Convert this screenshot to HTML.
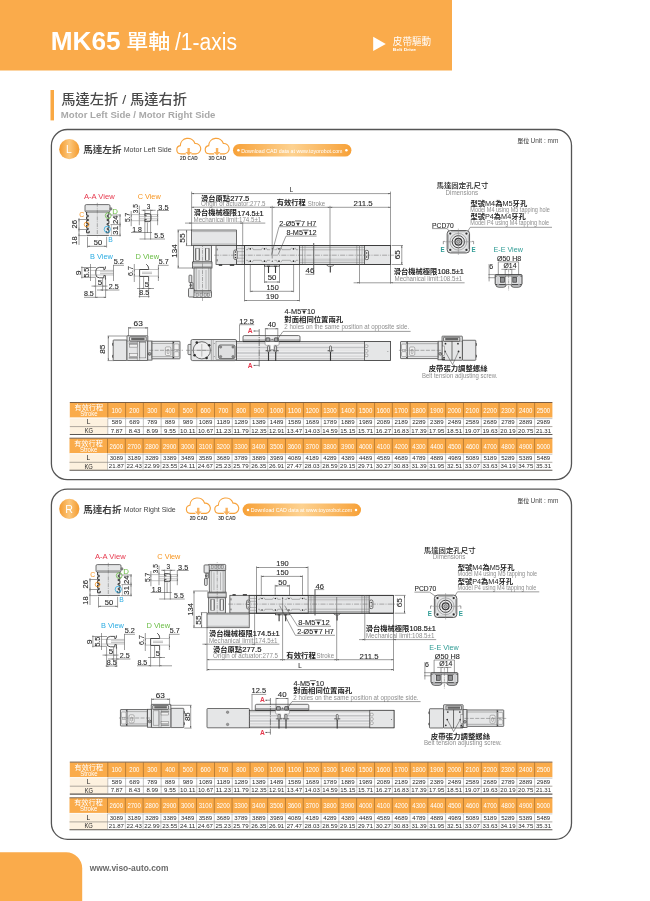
<!DOCTYPE html>
<html lang="zh-Hant">
<head>
<meta charset="utf-8">
<title>MK65 單軸 / 1-axis</title>
<style>
html,body{margin:0;padding:0;background:#fff;}
body{width:650px;height:901px;overflow:hidden;}
svg{display:block;font-family:"Liberation Sans", "Noto Sans CJK TC", sans-serif;will-change:transform;}

.hdr{fill:#FAAB4B;}
.bar{fill:#F9A843;}
.panel{fill:none;stroke:#555;stroke-width:1.3;}
.badge{fill:url(#gB);}
.pill{fill:url(#gP);}
.w{fill:#fff;}
.th{fill:#FAAB4A;}
.cream{fill:#FDF1DF;}
.tb{stroke:#6b4e33;stroke-width:0.9;}
.tb2{stroke:#5c5752;stroke-width:1.05;}
.tw{stroke:#fff;stroke-width:0.7;}
.tm{stroke:#9a948c;stroke-width:0.8;}
.thv{stroke:#8a5a22;stroke-width:0.55;}
.tv{stroke:#8f8f8f;stroke-width:0.5;}
.o{fill:none;stroke:#363636;stroke-width:0.7;}
.of{fill:#e5e6e7;stroke:#363636;stroke-width:0.7;}
.ot{fill:none;stroke:#555;stroke-width:0.4;}
.otf{fill:#e5e6e7;stroke:#555;stroke-width:0.4;}
.g{fill:#e5e6e7;}
.g2{fill:#cfd0d2;}
.k{fill:#2e2e2e;}
.d{fill:none;stroke:#4c4c4c;stroke-width:0.55;}
.dl{fill:none;stroke:#858585;stroke-width:0.5;}
.c{fill:none;stroke:#666;stroke-width:0.5;stroke-dasharray:5 1.2 1 1.2;}
.a{fill:#4a4a4a;}

</style>
</head>
<body>
<svg width="650" height="901" viewBox="0 0 650 901">
<defs>

<linearGradient id="gB" x1="0" y1="0" x2="1" y2="0">
<stop offset="0" stop-color="#F39A2E"/><stop offset="0.5" stop-color="#FCC77C"/><stop offset="1" stop-color="#F39A2E"/>
</linearGradient>
<linearGradient id="gP" x1="0" y1="0" x2="1" y2="0">
<stop offset="0" stop-color="#F7A138"/><stop offset="0.5" stop-color="#FDD291"/><stop offset="1" stop-color="#F7A138"/>
</linearGradient>

</defs>
<rect class="hdr" x="0.00" y="0.00" width="452.00" height="70.50"/>
<text x="50.76" y="50.40" font-size="26.38" fill="#fff" font-weight="700" textLength="69.89" lengthAdjust="spacingAndGlyphs">MK65</text>
<text x="126.16" y="49.27" font-size="20.56" fill="#fff" font-weight="500" textLength="44.22" lengthAdjust="spacingAndGlyphs">單軸</text>
<text x="175.00" y="49.70" font-size="23.48" fill="#fff" textLength="62.06" lengthAdjust="spacingAndGlyphs">/1-axis</text>
<polygon fill="#fff" points="373.2,36.8 385.8,43.9 373.2,51"/>
<text x="392.85" y="44.69" font-size="9.71" fill="#fff" textLength="38.20" lengthAdjust="spacingAndGlyphs">皮帶驅動</text>
<text x="392.89" y="51.30" font-size="4.35" fill="#fff" font-weight="700" textLength="23.24" lengthAdjust="spacingAndGlyphs">Belt Drive</text>
<rect class="bar" x="50.50" y="90.00" width="3.50" height="30.40"/>
<text x="61.38" y="104.14" font-size="13.43" fill="#4a4a4a" font-weight="500" textLength="125.57" lengthAdjust="spacingAndGlyphs">馬達左折 / 馬達右折</text>
<text x="60.80" y="117.90" font-size="9.28" fill="#a9a9a9" font-weight="700" textLength="154.64" lengthAdjust="spacingAndGlyphs">Motor Left Side / Motor Right Side</text>
<rect class="panel" x="51.40" y="129.50" width="520.10" height="350.20" rx="16"/>
<circle class="badge" cx="69.30" cy="149.20" r="10.10"/>
<text x="66.09" y="153.40" font-size="11.30" fill="#fff" textLength="5.77" lengthAdjust="spacingAndGlyphs">L</text>
<text x="83.25" y="153.03" font-size="9.23" fill="#3e3e3e" font-weight="700" textLength="38.25" lengthAdjust="spacingAndGlyphs">馬達左折</text>
<text x="123.65" y="152.40" font-size="7.54" fill="#444" textLength="48.04" lengthAdjust="spacingAndGlyphs">Motor Left Side</text>
<g transform="translate(176.10 137.70)"><path d="M9.3,16.1 H4.6 A4.1,4.1 0 0 1 4.2,7.95 A7.55,7.55 0 0 1 18.9,5.8 A5.2,5.2 0 0 1 20.3,16.1 H15.6" fill="none" stroke="#F7A23B" stroke-width="1.15" stroke-linecap="round"/><path d="M11.35,10.4 H13.75 V14.3 H15.9 L12.55,17.9 L9.2,14.3 H11.35 Z" fill="#F9B25E"/></g>
<g transform="translate(204.50 137.70)"><path d="M9.3,16.1 H4.6 A4.1,4.1 0 0 1 4.2,7.95 A7.55,7.55 0 0 1 18.9,5.8 A5.2,5.2 0 0 1 20.3,16.1 H15.6" fill="none" stroke="#F7A23B" stroke-width="1.15" stroke-linecap="round"/><path d="M11.35,10.4 H13.75 V14.3 H15.9 L12.55,17.9 L9.2,14.3 H11.35 Z" fill="#F9B25E"/></g>
<text x="180.05" y="160.30" font-size="5.07" fill="#444" font-weight="700" textLength="17.71" lengthAdjust="spacingAndGlyphs">2D CAD</text>
<text x="208.53" y="160.30" font-size="5.07" fill="#444" font-weight="700" textLength="17.64" lengthAdjust="spacingAndGlyphs">3D CAD</text>
<rect class="pill" x="233.00" y="144.00" width="118.40" height="12.60" rx="6.3"/>
<circle class="w" cx="238.40" cy="150.30" r="1.25"/>
<circle class="w" cx="346.40" cy="150.30" r="1.25"/>
<text x="241.19" y="152.60" font-size="6.23" fill="#fff" textLength="101.29" lengthAdjust="spacingAndGlyphs">Download CAD data at www.toyorobot.com</text>
<text x="517.32" y="142.96" font-size="5.77" fill="#4a4a4a" font-weight="500" textLength="12.07" lengthAdjust="spacingAndGlyphs">單位</text>
<text x="530.59" y="143.10" font-size="6.67" fill="#4a4a4a" textLength="27.74" lengthAdjust="spacingAndGlyphs">Unit : mm</text>
<rect class="panel" x="51.40" y="489.10" width="520.10" height="350.20" rx="16"/>
<circle class="badge" cx="69.30" cy="508.80" r="10.10"/>
<text x="65.27" y="512.60" font-size="11.30" fill="#fff" textLength="7.70" lengthAdjust="spacingAndGlyphs">R</text>
<text x="83.25" y="512.63" font-size="9.23" fill="#3e3e3e" font-weight="700" textLength="38.25" lengthAdjust="spacingAndGlyphs">馬達右折</text>
<text x="123.65" y="512.00" font-size="7.54" fill="#444" textLength="52.03" lengthAdjust="spacingAndGlyphs">Motor Right Side</text>
<g transform="translate(185.70 497.30)"><path d="M9.3,16.1 H4.6 A4.1,4.1 0 0 1 4.2,7.95 A7.55,7.55 0 0 1 18.9,5.8 A5.2,5.2 0 0 1 20.3,16.1 H15.6" fill="none" stroke="#F7A23B" stroke-width="1.15" stroke-linecap="round"/><path d="M11.35,10.4 H13.75 V14.3 H15.9 L12.55,17.9 L9.2,14.3 H11.35 Z" fill="#F9B25E"/></g>
<g transform="translate(214.10 497.30)"><path d="M9.3,16.1 H4.6 A4.1,4.1 0 0 1 4.2,7.95 A7.55,7.55 0 0 1 18.9,5.8 A5.2,5.2 0 0 1 20.3,16.1 H15.6" fill="none" stroke="#F7A23B" stroke-width="1.15" stroke-linecap="round"/><path d="M11.35,10.4 H13.75 V14.3 H15.9 L12.55,17.9 L9.2,14.3 H11.35 Z" fill="#F9B25E"/></g>
<text x="189.65" y="519.90" font-size="5.07" fill="#444" font-weight="700" textLength="17.71" lengthAdjust="spacingAndGlyphs">2D CAD</text>
<text x="218.13" y="519.90" font-size="5.07" fill="#444" font-weight="700" textLength="17.64" lengthAdjust="spacingAndGlyphs">3D CAD</text>
<rect class="pill" x="242.60" y="503.60" width="118.40" height="12.60" rx="6.3"/>
<circle class="w" cx="248.00" cy="509.90" r="1.25"/>
<circle class="w" cx="356.00" cy="509.90" r="1.25"/>
<text x="250.79" y="512.20" font-size="6.23" fill="#fff" textLength="101.29" lengthAdjust="spacingAndGlyphs">Download CAD data at www.toyorobot.com</text>
<text x="517.32" y="502.56" font-size="5.77" fill="#4a4a4a" font-weight="500" textLength="12.07" lengthAdjust="spacingAndGlyphs">單位</text>
<text x="530.59" y="502.70" font-size="6.67" fill="#4a4a4a" textLength="27.74" lengthAdjust="spacingAndGlyphs">Unit : mm</text>
<text x="84.00" y="198.50" font-size="7.39" fill="#E6384D" textLength="30.71" lengthAdjust="spacingAndGlyphs">A-A View</text>
<rect class="g" x="86.60" y="211.60" width="22.30" height="23.90"/>
<line class="o" x1="86.60" y1="235.50" x2="108.90" y2="235.50"/>
<path class="o" transform="translate(0.00 0.00)" d="M86.6,212 v3.2 h1.6 v1.6 h-1.6 v2.6 h1.8 v1.2 h-1.8 v3 h1.8 v1.4 h-1.8 v3.2 h1.6 v1.4 h-1.6 v3.2 h2.6 v-1.8" style="stroke-width:1"/>
<path class="o" transform="translate(0.00 0.00)" d="M108.9,212 v3.2 h-1.6 v1.6 h1.6 v2.6 h-1.8 v1.2 h1.8 v3 h-1.8 v1.4 h1.8 v3.2 h-1.6 v1.4 h1.6 v3.2 h-2.6 v-1.8" style="stroke-width:1"/>
<rect class="of" x="85.00" y="204.60" width="25.00" height="7.40" rx="1.3"/>
<line class="ot" x1="85.60" y1="210.60" x2="109.40" y2="210.60"/>
<rect class="ot" x="110.00" y="207.70" width="1.90" height="2.30" rx="0.5" style="fill:#8a8a8a;stroke:#444"/>
<line class="c" x1="97.30" y1="202.80" x2="97.30" y2="237.20" style="stroke-dasharray:4 1 0.8 1"/>
<text x="79.28" y="217.20" font-size="7.54" fill="#F7941E" textLength="4.96" lengthAdjust="spacingAndGlyphs">C</text>
<text x="112.38" y="214.20" font-size="7.25" fill="#6ABD45" textLength="5.69" lengthAdjust="spacingAndGlyphs">D</text>
<text x="108.37" y="241.60" font-size="7.25" fill="#2AABE2" textLength="4.51" lengthAdjust="spacingAndGlyphs">B</text>
<circle class="o" cx="86.60" cy="224.50" r="2.35" style="stroke:#F7941E;stroke-width:0.8"/>
<circle class="o" cx="108.20" cy="215.60" r="2.90" style="stroke:#6ABD45;stroke-width:0.8"/>
<circle class="o" cx="107.30" cy="229.30" r="3.10" style="stroke:#2AABE2;stroke-width:0.8"/>
<text transform="translate(77.20 228.20) rotate(-90)" x="-0.36" y="0" font-size="7.25" fill="#2b2b2b" textLength="8.47" lengthAdjust="spacingAndGlyphs" stroke="#2b2b2b" stroke-width="0.12">26</text>
<text transform="translate(77.20 244.20) rotate(-90)" x="-0.47" y="0" font-size="7.25" fill="#2b2b2b" textLength="8.38" lengthAdjust="spacingAndGlyphs" stroke="#2b2b2b" stroke-width="0.12">18</text>
<line class="d" x1="79.00" y1="218.00" x2="79.00" y2="245.00"/>
<line class="d" x1="78.20" y1="219.50" x2="86.00" y2="219.50"/>
<line class="d" x1="78.20" y1="229.50" x2="86.00" y2="229.50"/>
<line class="d" x1="78.20" y1="235.60" x2="86.40" y2="235.60"/>
<polygon class="a" points="79.00,219.50 78.55,221.30 79.45,221.30"/>
<polygon class="a" points="79.00,229.50 78.55,227.70 79.45,227.70"/>
<polygon class="a" points="79.00,229.50 78.55,231.30 79.45,231.30"/>
<polygon class="a" points="79.00,235.60 78.55,233.80 79.45,233.80"/>
<text x="93.76" y="245.00" font-size="6.96" fill="#2b2b2b" textLength="8.43" lengthAdjust="spacingAndGlyphs" stroke="#2b2b2b" stroke-width="0.12">50</text>
<line class="d" x1="87.50" y1="236.80" x2="87.50" y2="247.60"/>
<line class="d" x1="106.60" y1="236.80" x2="106.60" y2="247.60"/>
<line class="d" x1="87.50" y1="246.30" x2="106.60" y2="246.30"/>
<polygon class="a" points="87.50,246.30 89.70,245.75 89.70,246.85"/>
<polygon class="a" points="106.60,246.30 104.40,245.75 104.40,246.85"/>
<text transform="translate(117.80 223.60) rotate(-90)" x="-0.36" y="0" font-size="7.54" fill="#2b2b2b" textLength="8.55" lengthAdjust="spacingAndGlyphs" stroke="#2b2b2b" stroke-width="0.12">24</text>
<text transform="translate(117.80 234.40) rotate(-90)" x="-0.24" y="0" font-size="7.54" fill="#2b2b2b" textLength="8.55" lengthAdjust="spacingAndGlyphs" stroke="#2b2b2b" stroke-width="0.12">31</text>
<line class="d" x1="120.00" y1="214.40" x2="120.00" y2="236.40"/>
<line class="d" x1="110.50" y1="215.00" x2="121.00" y2="215.00"/>
<line class="d" x1="110.50" y1="224.60" x2="121.00" y2="224.60"/>
<line class="d" x1="109.50" y1="235.60" x2="121.00" y2="235.60"/>
<polygon class="a" points="120.00,215.00 119.55,216.80 120.45,216.80"/>
<polygon class="a" points="120.00,224.60 119.55,222.80 120.45,222.80"/>
<polygon class="a" points="120.00,224.60 119.55,226.40 120.45,226.40"/>
<polygon class="a" points="120.00,235.60 119.55,233.80 120.45,233.80"/>
<line class="dl" x1="111.40" y1="224.60" x2="111.40" y2="235.60"/>
<text x="137.66" y="198.50" font-size="7.39" fill="#F7941E" textLength="23.05" lengthAdjust="spacingAndGlyphs">C View</text>
<text transform="translate(137.80 213.00) rotate(-90)" x="-0.20" y="0" font-size="7.54" fill="#2b2b2b" textLength="9.07" lengthAdjust="spacingAndGlyphs" stroke="#2b2b2b" stroke-width="0.12">3.5</text>
<text transform="translate(129.80 221.80) rotate(-90)" x="-0.21" y="0" font-size="7.54" fill="#2b2b2b" textLength="9.28" lengthAdjust="spacingAndGlyphs" stroke="#2b2b2b" stroke-width="0.12">5.7</text>
<text x="146.80" y="208.90" font-size="7.10" fill="#2b2b2b" textLength="3.56" lengthAdjust="spacingAndGlyphs" stroke="#2b2b2b" stroke-width="0.12">3</text>
<text x="158.37" y="209.50" font-size="6.96" fill="#2b2b2b" textLength="10.23" lengthAdjust="spacingAndGlyphs" stroke="#2b2b2b" stroke-width="0.12">3.5</text>
<line class="d" x1="157.20" y1="210.50" x2="169.00" y2="210.50"/>
<line class="d" x1="157.60" y1="210.50" x2="157.60" y2="225.20"/>
<text x="132.17" y="231.50" font-size="6.81" fill="#2b2b2b" textLength="9.61" lengthAdjust="spacingAndGlyphs" stroke="#2b2b2b" stroke-width="0.12">1.8</text>
<line class="d" x1="131.00" y1="232.50" x2="152.00" y2="232.50"/>
<text x="154.38" y="237.80" font-size="6.96" fill="#2b2b2b" textLength="9.70" lengthAdjust="spacingAndGlyphs" stroke="#2b2b2b" stroke-width="0.12">5.5</text>
<line class="d" x1="139.50" y1="239.00" x2="165.00" y2="239.00"/>
<line class="d" x1="131.20" y1="211.00" x2="131.20" y2="226.20"/>
<line class="d" x1="139.30" y1="205.60" x2="139.30" y2="225.20"/>
<line class="d" x1="141.50" y1="210.30" x2="155.60" y2="210.30"/>
<polygon class="a" points="144.90,210.30 143.10,209.85 143.10,210.75"/>
<polygon class="a" points="150.60,210.30 152.40,209.85 152.40,210.75"/>
<line class="d" x1="144.90" y1="209.60" x2="144.90" y2="239.60"/>
<line class="d" x1="150.60" y1="209.60" x2="150.60" y2="239.60"/>
<line class="d" x1="147.40" y1="222.50" x2="147.40" y2="233.00"/>
<line class="dl" x1="130.40" y1="214.60" x2="158.40" y2="214.60"/>
<line class="dl" x1="130.40" y1="220.70" x2="158.40" y2="220.70"/>
<line class="dl" x1="139.00" y1="216.60" x2="158.40" y2="216.60"/>
<line class="dl" x1="139.00" y1="218.80" x2="158.40" y2="218.80"/>
<polygon class="a" points="131.20,214.60 130.75,216.40 131.65,216.40"/>
<polygon class="a" points="131.20,220.70 130.75,218.90 131.65,218.90"/>
<polygon class="a" points="139.30,214.60 138.85,212.80 139.75,212.80"/>
<polygon class="a" points="157.60,216.60 157.15,214.80 158.05,214.80"/>
<polygon class="a" points="157.60,218.80 157.15,220.60 158.05,220.60"/>
<path class="o" transform="translate(0.00 0.00)" d="M144.9,213.6 h4 a2.1,2.1 0 0 1 2.1,2.1 v3.8 a2.1,2.1 0 0 1 -2.1,2.1 h-4 M144.9,213.6 v2.2 h1.8 M144.9,221.6 v-2.2 h1.8" style="stroke-width:0.85"/>
<text x="90.02" y="258.50" font-size="7.39" fill="#2AABE2" textLength="22.89" lengthAdjust="spacingAndGlyphs">B View</text>
<text x="113.67" y="264.20" font-size="6.96" fill="#2b2b2b" textLength="10.12" lengthAdjust="spacingAndGlyphs" stroke="#2b2b2b" stroke-width="0.12">5.2</text>
<line class="d" x1="113.00" y1="265.30" x2="124.00" y2="265.30"/>
<line class="d" x1="113.50" y1="265.30" x2="113.50" y2="281.00"/>
<text transform="translate(81.20 274.80) rotate(-90)" x="-0.42" y="0" font-size="7.25" fill="#2b2b2b" textLength="4.98" lengthAdjust="spacingAndGlyphs" stroke="#2b2b2b" stroke-width="0.12">9</text>
<text transform="translate(89.20 277.40) rotate(-90)" x="-0.22" y="0" font-size="7.25" fill="#2b2b2b" textLength="9.91" lengthAdjust="spacingAndGlyphs" stroke="#2b2b2b" stroke-width="0.12">5.5</text>
<line class="d" x1="81.90" y1="266.40" x2="81.90" y2="278.40"/>
<line class="d" x1="90.50" y1="264.00" x2="90.50" y2="281.00"/>
<line class="d" x1="81.20" y1="267.50" x2="96.00" y2="267.50"/>
<line class="d" x1="81.20" y1="277.30" x2="96.00" y2="277.30"/>
<line class="dl" x1="89.60" y1="270.40" x2="113.80" y2="270.40"/>
<line class="dl" x1="89.60" y1="275.00" x2="113.80" y2="275.00"/>
<line class="dl" x1="100.00" y1="271.80" x2="113.80" y2="271.80"/>
<line class="dl" x1="100.00" y1="273.60" x2="113.80" y2="273.60"/>
<path class="o" transform="translate(0.00 0.00)" d="M105.4,266.4 v1.8 a1.4,1.4 0 0 1 -1.4,1.4 h-0.2 v-2.2 h-4.4 a3.6,3.6 0 0 0 -3.6,3.6 v3.2 a3.6,3.6 0 0 0 3.6,3.6 h4.4 v-2.2 h1.6 v4" style="stroke-width:0.85"/>
<text x="97.85" y="285.00" font-size="6.96" fill="#2b2b2b" textLength="4.48" lengthAdjust="spacingAndGlyphs" stroke="#2b2b2b" stroke-width="0.12">5</text>
<line class="d" x1="95.60" y1="278.00" x2="95.60" y2="298.00"/>
<line class="d" x1="105.60" y1="278.00" x2="105.60" y2="298.00"/>
<line class="d" x1="102.60" y1="278.00" x2="102.60" y2="291.00"/>
<line class="d" x1="91.50" y1="286.10" x2="107.50" y2="286.10"/>
<polygon class="a" points="95.60,286.10 93.80,285.65 93.80,286.55"/>
<polygon class="a" points="102.60,286.10 104.40,285.65 104.40,286.55"/>
<text x="108.87" y="288.80" font-size="6.96" fill="#2b2b2b" textLength="9.92" lengthAdjust="spacingAndGlyphs" stroke="#2b2b2b" stroke-width="0.12">2.5</text>
<line class="d" x1="97.00" y1="290.00" x2="119.40" y2="290.00"/>
<polygon class="a" points="102.60,290.00 100.80,289.55 100.80,290.45"/>
<polygon class="a" points="105.60,290.00 107.40,289.55 107.40,290.45"/>
<text x="83.98" y="296.30" font-size="6.96" fill="#2b2b2b" textLength="9.81" lengthAdjust="spacingAndGlyphs" stroke="#2b2b2b" stroke-width="0.12">8.5</text>
<line class="d" x1="84.00" y1="297.30" x2="106.00" y2="297.30"/>
<polygon class="a" points="95.60,297.30 97.40,296.85 97.40,297.75"/>
<polygon class="a" points="105.60,297.30 103.80,296.85 103.80,297.75"/>
<text x="135.41" y="258.50" font-size="7.39" fill="#6ABD45" textLength="23.70" lengthAdjust="spacingAndGlyphs">D View</text>
<text x="158.78" y="264.20" font-size="6.96" fill="#2b2b2b" textLength="9.81" lengthAdjust="spacingAndGlyphs" stroke="#2b2b2b" stroke-width="0.12">5.7</text>
<line class="d" x1="158.00" y1="265.30" x2="168.60" y2="265.30"/>
<line class="d" x1="158.40" y1="265.30" x2="158.40" y2="281.00"/>
<text transform="translate(132.80 275.60) rotate(-90)" x="-0.33" y="0" font-size="7.54" fill="#2b2b2b" textLength="9.82" lengthAdjust="spacingAndGlyphs" stroke="#2b2b2b" stroke-width="0.12">6.7</text>
<line class="d" x1="134.30" y1="264.00" x2="134.30" y2="282.00"/>
<line class="dl" x1="133.60" y1="269.50" x2="158.60" y2="269.50"/>
<line class="dl" x1="133.60" y1="276.10" x2="158.60" y2="276.10"/>
<line class="dl" x1="142.00" y1="272.20" x2="152.00" y2="272.20"/>
<line class="dl" x1="142.00" y1="273.60" x2="152.00" y2="273.60"/>
<polygon class="a" points="134.30,269.50 133.85,271.30 134.75,271.30"/>
<polygon class="a" points="134.30,276.10 133.85,274.30 134.75,274.30"/>
<polygon class="a" points="158.40,269.50 157.95,267.70 158.85,267.70"/>
<polygon class="a" points="158.40,276.10 157.95,277.90 158.85,277.90"/>
<path class="o" transform="translate(0.00 0.00)" d="M146.2,264.2 q2.4,1.6 2.4,4 v1.3 h-9 v7 h9 v4.6" style="stroke-width:0.85"/>
<text x="144.75" y="287.20" font-size="6.96" fill="#2b2b2b" textLength="4.36" lengthAdjust="spacingAndGlyphs" stroke="#2b2b2b" stroke-width="0.12">5</text>
<line class="d" x1="139.60" y1="277.00" x2="139.60" y2="297.60"/>
<line class="d" x1="148.60" y1="281.00" x2="148.60" y2="297.60"/>
<line class="d" x1="143.60" y1="277.00" x2="143.60" y2="289.00"/>
<line class="d" x1="137.00" y1="288.50" x2="154.00" y2="288.50"/>
<polygon class="a" points="143.60,288.50 141.80,288.05 141.80,288.95"/>
<polygon class="a" points="148.60,288.50 150.40,288.05 150.40,288.95"/>
<text x="139.38" y="295.30" font-size="6.96" fill="#2b2b2b" textLength="9.70" lengthAdjust="spacingAndGlyphs" stroke="#2b2b2b" stroke-width="0.12">8.5</text>
<line class="d" x1="138.60" y1="296.60" x2="149.60" y2="296.60"/>
<text x="436.48" y="188.43" font-size="7.13" fill="#222" font-weight="500" textLength="51.86" lengthAdjust="spacingAndGlyphs">馬達固定孔尺寸</text>
<text x="445.51" y="194.60" font-size="6.45" fill="#8e8e8e" textLength="32.68" lengthAdjust="spacingAndGlyphs">Dimensions</text>
<text x="470.46" y="205.85" font-size="6.92" fill="#222" textLength="56.76" lengthAdjust="spacingAndGlyphs"><tspan font-weight="700">型號</tspan>M4<tspan font-weight="700">為</tspan>M5<tspan font-weight="700">牙孔</tspan></text>
<text x="470.37" y="211.60" font-size="6.30" fill="#8e8e8e" textLength="79.45" lengthAdjust="spacingAndGlyphs">Model M4 using M5 tapping hole</text>
<text x="470.46" y="219.06" font-size="6.82" fill="#222" textLength="55.25" lengthAdjust="spacingAndGlyphs"><tspan font-weight="700">型號</tspan>P4<tspan font-weight="700">為</tspan>M4<tspan font-weight="700">牙孔</tspan></text>
<text x="470.37" y="225.00" font-size="6.30" fill="#8e8e8e" textLength="78.65" lengthAdjust="spacingAndGlyphs">Model P4 using M4 tapping hole</text>
<line class="d" x1="470.20" y1="227.30" x2="552.00" y2="227.30"/>
<line class="d" x1="470.20" y1="227.30" x2="466.80" y2="232.80"/>
<text x="432.08" y="227.60" font-size="7.25" fill="#2b2b2b" textLength="21.59" lengthAdjust="spacingAndGlyphs" stroke="#2b2b2b" stroke-width="0.12">PCD70</text>
<line class="d" x1="432.00" y1="228.60" x2="447.20" y2="228.60"/>
<line class="d" x1="447.20" y1="228.60" x2="450.60" y2="233.40"/>
<path class="of" transform="translate(0.00 0.00)" d="M450.35,230.55 H466.35 Q469.55,230.55 469.55,233.75 V249.75 Q469.55,252.95 466.35,252.95 H450.35 Q447.15000000000003,252.95 447.15000000000003,249.75 V233.75 Q447.15000000000003,230.55 450.35,230.55 Z" style="stroke-width:0.8"/>
<path class="ot" transform="translate(0.00 0.00)" d="M448.35,234.55 V248.95 M468.35,234.55 V248.95 M451.15000000000003,231.75 H465.55 M451.15000000000003,251.75 H465.55"/>
<circle class="ot" cx="458.35" cy="241.75" r="8.40"/>
<circle class="o" cx="458.35" cy="241.75" r="6.10" style="fill:#eeeeef;stroke-width:0.9"/>
<circle class="o" cx="458.35" cy="241.75" r="3.40" style="stroke-width:1.2;fill:#d0d1d2"/>
<circle class="o" cx="458.35" cy="241.75" r="1.50" style="fill:#fafafa;stroke-width:0.6"/>
<circle class="k" cx="450.25" cy="233.55" r="1.15"/>
<circle class="k" cx="450.25" cy="249.95" r="1.15"/>
<circle class="k" cx="466.45" cy="233.55" r="1.15"/>
<circle class="k" cx="466.45" cy="249.95" r="1.15"/>
<line class="dl" x1="445.15" y1="241.75" x2="471.75" y2="241.75"/>
<line class="dl" x1="458.35" y1="228.55" x2="458.35" y2="254.95"/>
<path class="d" transform="translate(0.00 0.00)" d="M444.9,241.4 H443.3 V244.2 M471.8,241.4 H473.6 V244.2"/>
<text x="440.61" y="251.60" font-size="7.83" fill="#2E9B94" font-weight="700" textLength="4.15" lengthAdjust="spacingAndGlyphs">E</text>
<text x="471.61" y="251.60" font-size="7.83" fill="#2E9B94" font-weight="700" textLength="4.15" lengthAdjust="spacingAndGlyphs">E</text>
<text x="493.44" y="251.70" font-size="7.68" fill="#2E9B94" textLength="29.47" lengthAdjust="spacingAndGlyphs">E-E View</text>
<text x="496.98" y="260.80" font-size="7.25" fill="#2b2b2b" textLength="24.31" lengthAdjust="spacingAndGlyphs" stroke="#2b2b2b" stroke-width="0.12">Ø50 H8</text>
<text x="503.48" y="268.00" font-size="7.25" fill="#2b2b2b" textLength="13.09" lengthAdjust="spacingAndGlyphs" stroke="#2b2b2b" stroke-width="0.12">Ø14</text>
<text x="489.27" y="269.00" font-size="7.25" fill="#2b2b2b" textLength="3.92" lengthAdjust="spacingAndGlyphs" stroke="#2b2b2b" stroke-width="0.12">6</text>
<line class="d" x1="498.30" y1="261.90" x2="518.60" y2="261.90"/>
<line class="d" x1="498.30" y1="261.90" x2="498.30" y2="275.00"/>
<line class="d" x1="518.60" y1="261.90" x2="518.60" y2="275.00"/>
<line class="d" x1="501.40" y1="269.30" x2="515.60" y2="269.30"/>
<polygon class="a" points="505.20,269.30 507.00,268.85 507.00,269.75"/>
<polygon class="a" points="511.80,269.30 510.00,268.85 510.00,269.75"/>
<line class="d" x1="505.20" y1="269.00" x2="505.20" y2="277.00"/>
<line class="d" x1="511.80" y1="269.00" x2="511.80" y2="277.00"/>
<line class="d" x1="489.10" y1="264.00" x2="489.10" y2="281.40"/>
<line class="d" x1="488.40" y1="274.60" x2="496.00" y2="274.60"/>
<line class="d" x1="488.40" y1="277.70" x2="496.00" y2="277.70"/>
<path class="o" transform="translate(0.00 0.00)" d="M495.6,284.4 Q495.8,287.3 499,287.3 H503.4 Q506,287.3 506.4,284.4 Z" style="fill:#c4c5c7"/>
<path class="o" transform="translate(0.00 0.00)" d="M510.8,284.4 Q511.2,287.3 513.8,287.3 H518.2 Q521.4,287.3 521.6,284.4 Z" style="fill:#c4c5c7"/>
<rect class="of" x="495.20" y="274.60" width="26.80" height="10.00" rx="0.8" style="stroke-width:0.9;fill:#dcdddf"/>
<line class="o" x1="495.20" y1="276.10" x2="522.00" y2="276.10"/>
<rect class="g2" x="497.00" y="276.10" width="2.20" height="8.50"/>
<rect class="g2" x="518.00" y="276.10" width="2.20" height="8.50"/>
<rect class="o" x="500.60" y="277.40" width="3.80" height="4.80" style="fill:#8f9092"/>
<rect class="o" x="512.80" y="277.40" width="3.80" height="4.80" style="fill:#8f9092"/>
<rect class="ot" x="505.60" y="276.10" width="6.00" height="8.50" style="fill:#f3f3f3"/>
<line class="c" x1="508.60" y1="269.60" x2="508.60" y2="290.40" style="stroke-dasharray:3 0.8 0.8 0.8"/>
<line class="d" x1="191.60" y1="191.60" x2="191.60" y2="230.00"/>
<line class="d" x1="390.50" y1="191.60" x2="390.50" y2="283.60"/>
<line class="d" x1="242.70" y1="222.20" x2="242.70" y2="246.00"/>
<line class="d" x1="272.20" y1="205.80" x2="272.20" y2="258.50"/>
<line class="d" x1="330.00" y1="205.80" x2="330.00" y2="264.50"/>
<line class="d" x1="359.50" y1="264.50" x2="359.50" y2="283.60"/>
<line class="d" x1="264.50" y1="264.50" x2="264.50" y2="283.00"/>
<line class="d" x1="279.50" y1="264.50" x2="279.50" y2="283.00"/>
<line class="d" x1="250.30" y1="264.50" x2="250.30" y2="292.20"/>
<line class="d" x1="293.60" y1="264.50" x2="293.60" y2="292.20"/>
<line class="d" x1="244.50" y1="264.50" x2="244.50" y2="301.40"/>
<line class="d" x1="299.50" y1="264.50" x2="299.50" y2="301.40"/>
<rect class="of" x="193.40" y="245.60" width="18.00" height="16.40"/>
<rect class="ot" x="195.80" y="248.50" width="3.40" height="11.70" style="fill:#f6f6f6"/>
<line class="o" x1="195.80" y1="248.50" x2="195.80" y2="260.20"/>
<line class="o" x1="199.20" y1="248.50" x2="199.20" y2="260.20"/>
<rect class="ot" x="205.60" y="248.50" width="3.40" height="11.70" style="fill:#f6f6f6"/>
<line class="o" x1="205.60" y1="248.50" x2="205.60" y2="260.20"/>
<line class="o" x1="209.00" y1="248.50" x2="209.00" y2="260.20"/>
<rect class="of" x="192.60" y="262.00" width="19.40" height="6.00"/>
<line class="ot" x1="192.60" y1="263.60" x2="212.00" y2="263.60"/>
<line class="ot" x1="192.60" y1="266.40" x2="212.00" y2="266.40"/>
<rect class="of" x="194.00" y="268.00" width="17.00" height="23.00"/>
<line class="ot" x1="196.20" y1="268.00" x2="196.20" y2="291.00"/>
<line class="ot" x1="208.80" y1="268.00" x2="208.80" y2="291.00"/>
<line class="dl" x1="199.00" y1="270.00" x2="199.00" y2="289.00"/>
<line class="dl" x1="206.00" y1="270.00" x2="206.00" y2="289.00"/>
<rect class="of" x="193.00" y="291.00" width="18.50" height="6.50" rx="0.8"/>
<line class="ot" x1="194.00" y1="292.60" x2="211.00" y2="292.60"/>
<rect class="ot" x="196.00" y="293.40" width="2.20" height="3.20" style="fill:#cfd0d1"/>
<rect class="ot" x="200.00" y="293.40" width="2.20" height="3.20" style="fill:#cfd0d1"/>
<rect class="ot" x="204.00" y="293.40" width="2.20" height="3.20" style="fill:#cfd0d1"/>
<rect class="ot" x="207.20" y="293.40" width="2.20" height="3.20" style="fill:#cfd0d1"/>
<rect class="of" x="189.00" y="275.20" width="2.80" height="7.40" rx="0.6"/>
<rect class="of" x="190.40" y="282.60" width="2.60" height="5.80" rx="0.6"/>
<rect class="of" x="188.50" y="288.40" width="5.50" height="8.60" rx="0.8"/>
<circle class="o" cx="190.80" cy="285.40" r="0.90"/>
<line class="c" x1="202.50" y1="243.00" x2="202.50" y2="301.00" style="stroke-dasharray:4 1 0.8 1"/>
<rect class="of" x="216.00" y="245.60" width="20.60" height="19.00"/>
<line class="o" x1="217.20" y1="248.60" x2="217.20" y2="250.40"/>
<line class="o" x1="217.20" y1="259.20" x2="217.20" y2="261.40"/>
<rect class="k" x="218.80" y="264.40" width="3.40" height="1.40"/>
<rect class="k" x="229.80" y="264.40" width="4.40" height="1.40"/>
<rect class="of" x="191.60" y="230.00" width="45.00" height="15.60"/>
<line class="ot" x1="191.60" y1="244.10" x2="236.60" y2="244.10"/>
<line class="dl" x1="192.20" y1="231.60" x2="236.00" y2="231.60"/>
<rect class="of" x="236.60" y="245.50" width="7.90" height="19.00"/>
<rect class="of" x="244.50" y="245.50" width="146.00" height="19.00"/>
<line class="dl" x1="236.60" y1="248.60" x2="244.50" y2="248.60"/>
<line class="dl" x1="236.60" y1="251.60" x2="244.50" y2="251.60"/>
<line class="dl" x1="236.60" y1="258.20" x2="244.50" y2="258.20"/>
<line class="dl" x1="236.60" y1="261.20" x2="244.50" y2="261.20"/>
<line class="dl" x1="242.20" y1="245.50" x2="242.20" y2="264.50"/>
<rect class="of" x="233.80" y="250.10" width="3.40" height="9.30" rx="1.2" style="fill:#f4f4f4"/>
<circle class="k" cx="235.50" cy="252.00" r="0.75"/>
<circle class="k" cx="235.50" cy="254.70" r="0.75"/>
<circle class="k" cx="235.50" cy="257.40" r="0.75"/>
<line class="ot" x1="299.50" y1="247.30" x2="364.50" y2="247.30"/>
<line class="dl" x1="299.50" y1="249.80" x2="364.50" y2="249.80"/>
<line class="dl" x1="299.50" y1="260.00" x2="364.50" y2="260.00"/>
<line class="ot" x1="299.50" y1="262.60" x2="364.50" y2="262.60"/>
<rect class="g2" x="299.50" y="258.20" width="65.00" height="4.00" style="opacity:.55"/>
<rect class="o" x="244.50" y="245.50" width="55.00" height="19.00" style="stroke-width:0.7"/>
<path class="ot" d="M252.20,247.70 L253.40,249.70 L261.40,249.70 L262.60,247.70"/>
<path class="ot" d="M280.90,247.70 L282.10,249.70 L290.40,249.70 L291.60,247.70"/>
<path class="ot" d="M246.00,249.70 L247.80,249.70 L248.60,247.70"/>
<path class="ot" d="M266.20,247.70 L267.00,249.70 L270.20,249.70"/>
<path class="ot" d="M274.40,249.70 L276.60,249.70 L277.40,247.70"/>
<path class="ot" d="M295.20,247.70 L296.00,249.70 L298.20,249.70"/>
<circle class="k" cx="250.30" cy="248.80" r="0.85"/>
<circle class="k" cx="264.50" cy="248.80" r="0.85"/>
<circle class="k" cx="279.00" cy="248.80" r="0.85"/>
<circle class="k" cx="293.50" cy="248.80" r="0.85"/>
<circle class="k" cx="272.30" cy="248.80" r="0.60"/>
<path class="ot" d="M252.20,262.30 L253.40,260.30 L261.40,260.30 L262.60,262.30"/>
<path class="ot" d="M280.90,262.30 L282.10,260.30 L290.40,260.30 L291.60,262.30"/>
<path class="ot" d="M246.00,260.30 L247.80,260.30 L248.60,262.30"/>
<path class="ot" d="M266.20,262.30 L267.00,260.30 L270.20,260.30"/>
<path class="ot" d="M274.40,260.30 L276.60,260.30 L277.40,262.30"/>
<path class="ot" d="M295.20,262.30 L296.00,260.30 L298.20,260.30"/>
<circle class="k" cx="250.30" cy="261.20" r="0.85"/>
<circle class="k" cx="264.50" cy="261.20" r="0.85"/>
<circle class="k" cx="279.00" cy="261.20" r="0.85"/>
<circle class="k" cx="293.50" cy="261.20" r="0.85"/>
<circle class="k" cx="272.30" cy="261.20" r="0.60"/>
<line class="ot" x1="302.50" y1="245.50" x2="302.50" y2="264.50"/>
<line class="dl" x1="305.00" y1="245.50" x2="305.00" y2="264.50"/>
<rect class="of" x="364.50" y="245.50" width="26.00" height="19.00"/>
<line class="ot" x1="356.80" y1="245.50" x2="356.80" y2="264.50"/>
<line class="ot" x1="359.50" y1="245.50" x2="359.50" y2="264.50"/>
<line class="dl" x1="362.00" y1="245.50" x2="362.00" y2="264.50"/>
<rect class="of" x="365.00" y="250.40" width="3.50" height="9.20" rx="1.4" style="fill:#f4f4f4"/>
<circle class="k" cx="366.70" cy="253.10" r="0.75"/>
<circle class="k" cx="366.70" cy="256.90" r="0.75"/>
<line class="o" x1="236.60" y1="245.50" x2="390.50" y2="245.50" style="stroke-width:0.8"/>
<line class="o" x1="236.60" y1="264.50" x2="390.50" y2="264.50" style="stroke-width:0.8"/>
<line class="c" x1="214.10" y1="255.20" x2="394.10" y2="255.20"/>
<rect class="of" x="264.50" y="264.50" width="15.00" height="1.70"/>
<path class="o" d="M267.00,266.20 L270.00,266.20" style="stroke-width:0.9"/>
<line class="o" x1="268.50" y1="266.20" x2="268.50" y2="273.00" style="stroke-width:1.1"/>
<path class="o" d="M274.00,266.20 L277.00,266.20" style="stroke-width:0.9"/>
<line class="o" x1="275.50" y1="266.20" x2="275.50" y2="273.00" style="stroke-width:1.1"/>
<path class="o" d="M326.40,264.80 L328.20,266.20 L332.20,266.20 L334.00,264.80"/>
<line class="o" x1="330.30" y1="266.20" x2="330.30" y2="272.40" style="stroke-width:1.1"/>
<line class="d" x1="272.20" y1="245.00" x2="272.20" y2="258.50"/>
<line class="d" x1="330.00" y1="245.00" x2="330.00" y2="265.00"/>
<line class="d" x1="313.70" y1="243.00" x2="313.70" y2="274.30"/>
<line class="dl" x1="359.50" y1="245.50" x2="359.50" y2="264.50"/>
<line class="d" x1="191.60" y1="193.60" x2="390.50" y2="193.60"/>
<polygon class="a" points="191.60,193.60 193.80,193.05 193.80,194.15"/>
<polygon class="a" points="390.50,193.60 388.30,193.05 388.30,194.15"/>
<text x="289.83" y="192.40" font-size="6.67" fill="#2b2b2b" textLength="3.31" lengthAdjust="spacingAndGlyphs" stroke="#2b2b2b" stroke-width="0.12">L</text>
<text x="201.07" y="200.66" font-size="6.81" fill="#222" font-weight="700" textLength="29.04" lengthAdjust="spacingAndGlyphs">滑台原點</text>
<text x="230.34" y="200.85" font-size="7.75" fill="#222" textLength="18.96" lengthAdjust="spacingAndGlyphs" stroke="#222" stroke-width="0.2">277.5</text>
<text x="201.01" y="205.90" font-size="6.30" fill="#8e8e8e" textLength="64.54" lengthAdjust="spacingAndGlyphs">Origin of actuator:277.5</text>
<line class="d" x1="191.60" y1="207.20" x2="272.20" y2="207.20"/>
<polygon class="a" points="191.60,207.20 193.80,206.65 193.80,207.75"/>
<polygon class="a" points="272.20,207.20 270.00,206.65 270.00,207.75"/>
<text x="276.77" y="205.34" font-size="6.92" fill="#222" font-weight="700" textLength="29.05" lengthAdjust="spacingAndGlyphs">有效行程</text>
<text x="307.81" y="205.80" font-size="6.45" fill="#8e8e8e" textLength="17.43" lengthAdjust="spacingAndGlyphs">Stroke</text>
<line class="d" x1="272.20" y1="207.30" x2="330.00" y2="207.30"/>
<polygon class="a" points="272.20,207.30 274.40,206.75 274.40,207.85"/>
<polygon class="a" points="330.00,207.30 327.80,206.75 327.80,207.85"/>
<text x="353.63" y="206.00" font-size="7.25" fill="#2b2b2b" textLength="19.09" lengthAdjust="spacingAndGlyphs" stroke="#2b2b2b" stroke-width="0.12">211.5</text>
<line class="d" x1="330.00" y1="207.30" x2="390.50" y2="207.30"/>
<polygon class="a" points="330.00,207.30 332.20,206.75 332.20,207.85"/>
<polygon class="a" points="390.50,207.30 388.30,206.75 388.30,207.85"/>
<text x="193.77" y="215.44" font-size="6.91" fill="#222" font-weight="700" textLength="43.34" lengthAdjust="spacingAndGlyphs">滑台機械極限</text>
<text x="237.24" y="215.65" font-size="7.90" fill="#222" textLength="26.46" lengthAdjust="spacingAndGlyphs" stroke="#222" stroke-width="0.2">174.5±1</text>
<text x="193.52" y="221.80" font-size="6.30" fill="#8e8e8e" textLength="67.73" lengthAdjust="spacingAndGlyphs">Mechanical limit:174.5±1</text>
<line class="d" x1="185.00" y1="223.10" x2="265.30" y2="223.10"/>
<polygon class="a" points="191.60,223.10 189.40,222.55 189.40,223.65"/>
<polygon class="a" points="242.70,223.10 240.50,222.55 240.50,223.65"/>
<text transform="translate(185.40 242.40) rotate(-90)" x="-0.26" y="0" font-size="7.25" fill="#2b2b2b" textLength="9.41" lengthAdjust="spacingAndGlyphs" stroke="#2b2b2b" stroke-width="0.12">55</text>
<text transform="translate(176.80 257.20) rotate(-90)" x="-0.51" y="0" font-size="7.25" fill="#2b2b2b" textLength="13.51" lengthAdjust="spacingAndGlyphs" stroke="#2b2b2b" stroke-width="0.12">134</text>
<line class="d" x1="186.60" y1="230.00" x2="186.60" y2="245.60"/>
<polygon class="a" points="186.60,230.00 186.05,232.20 187.15,232.20"/>
<polygon class="a" points="186.60,245.60 186.05,243.40 187.15,243.40"/>
<line class="d" x1="178.20" y1="230.00" x2="178.20" y2="268.00"/>
<polygon class="a" points="178.20,230.00 177.65,232.20 178.75,232.20"/>
<polygon class="a" points="178.20,268.00 177.65,265.80 178.75,265.80"/>
<line class="d" x1="177.40" y1="230.00" x2="191.60" y2="230.00"/>
<line class="d" x1="185.80" y1="245.60" x2="192.00" y2="245.60"/>
<line class="d" x1="177.40" y1="268.00" x2="193.00" y2="268.00"/>
<text x="279.27" y="225.70" font-size="7.39" fill="#2b2b2b" textLength="37.01" lengthAdjust="spacingAndGlyphs" stroke="#2b2b2b" stroke-width="0.12">2-Ø5<tspan style="font-size:78%" text-decoration="overline">▼</tspan>7 H7</text>
<line class="d" x1="279.00" y1="226.70" x2="316.60" y2="226.70"/>
<line class="d" x1="279.00" y1="226.70" x2="271.60" y2="254.60"/>
<text x="286.38" y="234.90" font-size="7.39" fill="#2b2b2b" textLength="30.30" lengthAdjust="spacingAndGlyphs" stroke="#2b2b2b" stroke-width="0.12">8-M5<tspan style="font-size:78%" text-decoration="overline">▼</tspan>12</text>
<line class="d" x1="286.00" y1="236.10" x2="316.60" y2="236.10"/>
<line class="d" x1="286.00" y1="236.10" x2="278.20" y2="254.60"/>
<text x="267.76" y="280.10" font-size="7.10" fill="#2b2b2b" textLength="8.64" lengthAdjust="spacingAndGlyphs" stroke="#2b2b2b" stroke-width="0.12">50</text>
<line class="d" x1="264.50" y1="282.00" x2="279.50" y2="282.00"/>
<polygon class="a" points="264.50,282.00 266.70,281.45 266.70,282.55"/>
<polygon class="a" points="279.50,282.00 277.30,281.45 277.30,282.55"/>
<text x="266.55" y="290.40" font-size="7.10" fill="#2b2b2b" textLength="12.14" lengthAdjust="spacingAndGlyphs" stroke="#2b2b2b" stroke-width="0.12">150</text>
<line class="d" x1="250.30" y1="291.30" x2="293.60" y2="291.30"/>
<polygon class="a" points="250.30,291.30 252.50,290.75 252.50,291.85"/>
<polygon class="a" points="293.60,291.30 291.40,290.75 291.40,291.85"/>
<text x="266.13" y="299.20" font-size="7.10" fill="#2b2b2b" textLength="12.56" lengthAdjust="spacingAndGlyphs" stroke="#2b2b2b" stroke-width="0.12">190</text>
<line class="d" x1="244.50" y1="300.50" x2="299.50" y2="300.50"/>
<polygon class="a" points="244.50,300.50 246.70,299.95 246.70,301.05"/>
<polygon class="a" points="299.50,300.50 297.30,299.95 297.30,301.05"/>
<text x="305.48" y="273.10" font-size="7.10" fill="#2b2b2b" textLength="8.85" lengthAdjust="spacingAndGlyphs" stroke="#2b2b2b" stroke-width="0.12">46</text>
<line class="d" x1="305.40" y1="274.30" x2="314.20" y2="274.30"/>
<line class="d" x1="313.70" y1="243.00" x2="313.70" y2="274.30"/>
<text transform="translate(400.40 258.80) rotate(-90)" x="-0.38" y="0" font-size="7.25" fill="#2b2b2b" textLength="9.01" lengthAdjust="spacingAndGlyphs" stroke="#2b2b2b" stroke-width="0.12">65</text>
<line class="d" x1="401.80" y1="245.50" x2="401.80" y2="264.50"/>
<polygon class="a" points="401.80,245.50 401.25,247.70 402.35,247.70"/>
<polygon class="a" points="401.80,264.50 401.25,262.30 402.35,262.30"/>
<line class="d" x1="391.60" y1="245.50" x2="403.00" y2="245.50"/>
<line class="d" x1="391.60" y1="264.50" x2="403.00" y2="264.50"/>
<text x="393.77" y="274.14" font-size="6.91" fill="#222" font-weight="700" textLength="43.54" lengthAdjust="spacingAndGlyphs">滑台機械極限</text>
<text x="437.44" y="274.35" font-size="7.90" fill="#222" textLength="26.46" lengthAdjust="spacingAndGlyphs" stroke="#222" stroke-width="0.2">108.5±1</text>
<text x="394.52" y="281.40" font-size="6.59" fill="#8e8e8e" textLength="67.73" lengthAdjust="spacingAndGlyphs">Mechanical limit:108.5±1</text>
<line class="d" x1="353.60" y1="282.80" x2="464.60" y2="282.80"/>
<polygon class="a" points="359.50,282.80 357.30,282.25 357.30,283.35"/>
<polygon class="a" points="390.50,282.80 392.70,282.25 392.70,283.35"/>
<text x="133.61" y="326.40" font-size="7.10" fill="#2b2b2b" textLength="9.22" lengthAdjust="spacingAndGlyphs" stroke="#2b2b2b" stroke-width="0.12">63</text>
<line class="d" x1="128.50" y1="327.90" x2="147.60" y2="327.90"/>
<polygon class="a" points="128.50,327.90 130.70,327.35 130.70,328.45"/>
<polygon class="a" points="147.60,327.90 145.40,327.35 145.40,328.45"/>
<line class="d" x1="128.50" y1="327.00" x2="128.50" y2="336.00"/>
<line class="d" x1="147.60" y1="327.00" x2="147.60" y2="336.00"/>
<text transform="translate(105.40 353.60) rotate(-90)" x="-0.26" y="0" font-size="7.25" fill="#2b2b2b" textLength="9.19" lengthAdjust="spacingAndGlyphs" stroke="#2b2b2b" stroke-width="0.12">85</text>
<line class="d" x1="108.30" y1="336.00" x2="108.30" y2="360.60"/>
<polygon class="a" points="108.30,336.00 107.75,338.20 108.85,338.20"/>
<polygon class="a" points="108.30,360.60 107.75,358.40 108.85,358.40"/>
<line class="d" x1="107.60" y1="336.00" x2="128.50" y2="336.00"/>
<line class="d" x1="107.60" y1="360.60" x2="114.00" y2="360.60"/>
<rect class="of" x="113.20" y="340.00" width="13.80" height="20.50" rx="0.6"/>
<path class="o" d="M113.20,343.30 L112.50,343.30 L112.50,345.30 L113.20,345.30"/>
<path class="o" d="M113.20,355.30 L112.50,355.30 L112.50,357.30 L113.20,357.30"/>
<rect class="of" x="127.00" y="335.80" width="20.80" height="24.70" rx="0.5"/>
<rect class="of" x="129.60" y="336.90" width="16.60" height="4.20" rx="0.5" style="fill:#f2f2f2;stroke-width:0.7"/>
<rect class="k" x="131.20" y="337.70" width="13.40" height="2.40" style="fill:#666"/>
<line class="ot" x1="127.00" y1="341.10" x2="147.80" y2="341.10"/>
<line class="ot" x1="137.40" y1="341.10" x2="137.40" y2="360.50"/>
<line class="ot" x1="139.60" y1="341.10" x2="139.60" y2="360.50"/>
<line class="o" x1="128.80" y1="343.10" x2="137.40" y2="343.10"/>
<line class="o" x1="128.80" y1="357.90" x2="137.40" y2="357.90"/>
<rect class="ot" x="129.40" y="344.30" width="8.00" height="2.80" style="fill:#f0f0f0"/>
<rect class="ot" x="129.40" y="353.70" width="8.00" height="2.80" style="fill:#f0f0f0"/>
<rect class="ot" x="139.60" y="342.70" width="6.20" height="15.20"/>
<rect class="of" x="147.80" y="341.00" width="4.20" height="19.10"/>
<circle class="o" cx="149.60" cy="353.90" r="1.40"/>
<circle class="k" cx="149.60" cy="353.90" r="0.50"/>
<rect class="of" x="152.00" y="341.30" width="28.00" height="17.50" rx="0.5"/>
<line class="ot" x1="152.00" y1="343.50" x2="173.00" y2="343.50"/>
<line class="ot" x1="152.00" y1="356.60" x2="173.00" y2="356.60"/>
<line class="o" x1="173.00" y1="341.30" x2="173.00" y2="358.80"/>
<rect class="ot" x="165.40" y="346.90" width="5.40" height="8.60" rx="1.2" style="fill:#f1f1f1"/>
<rect class="ot" x="167.20" y="349.30" width="1.80" height="4.40" rx="0.8"/>
<rect class="ot" x="174.00" y="343.90" width="5.00" height="5.80" rx="1" style="fill:#f1f1f1"/>
<rect class="ot" x="174.00" y="351.70" width="5.00" height="5.00" rx="1" style="fill:#f1f1f1"/>
<circle class="k" cx="173.60" cy="342.70" r="0.70"/>
<circle class="k" cx="173.60" cy="357.50" r="0.70"/>
<line class="c" x1="149.20" y1="350.30" x2="183.00" y2="350.30" style="stroke-dasharray:4 1.4"/>
<rect class="of" x="188.00" y="344.40" width="4.00" height="10.20" rx="0.8"/>
<rect class="of" x="191.00" y="339.50" width="45.60" height="21.10" rx="1.6"/>
<line class="ot" x1="211.40" y1="340.00" x2="211.40" y2="360.20"/>
<line class="dl" x1="213.20" y1="340.00" x2="213.20" y2="360.20"/>
<rect class="ot" x="216.00" y="341.60" width="20.60" height="18.00"/>
<rect class="of" x="218.50" y="345.00" width="16.50" height="13.60" rx="1.8" style="fill:#dedfe0"/>
<circle class="ot" cx="220.60" cy="347.00" r="1.20" style="fill:#8c8c8c"/>
<circle class="ot" cx="220.60" cy="356.60" r="1.20" style="fill:#8c8c8c"/>
<circle class="ot" cx="233.00" cy="347.00" r="1.20" style="fill:#8c8c8c"/>
<circle class="ot" cx="233.00" cy="356.60" r="1.20" style="fill:#8c8c8c"/>
<circle class="k" cx="214.20" cy="343.40" r="0.45"/>
<circle class="k" cx="214.20" cy="356.60" r="0.45"/>
<circle class="o" cx="201.80" cy="350.30" r="8.60" style="fill:#eeeeef"/>
<line class="dl" x1="195.60" y1="350.30" x2="208.00" y2="350.30"/>
<line class="dl" x1="201.80" y1="344.00" x2="201.80" y2="356.60"/>
<circle class="k" cx="196.80" cy="342.60" r="1.30"/>
<circle class="k" cx="209.20" cy="345.20" r="1.30"/>
<circle class="k" cx="194.60" cy="355.20" r="1.30"/>
<circle class="k" cx="206.60" cy="358.00" r="1.30"/>
<line class="c" x1="186.00" y1="350.30" x2="213.00" y2="350.30" style="stroke-dasharray:4 1.4"/>
<rect class="of" x="236.60" y="341.55" width="153.90" height="18.80" style="fill:#ececed"/>
<line class="o" x1="237.10" y1="347.45" x2="364.50" y2="347.45" style="stroke:#c3c4c6;stroke-width:1.5"/>
<line class="o" x1="237.10" y1="352.95" x2="364.50" y2="352.95" style="stroke:#c3c4c6;stroke-width:1.5"/>
<line class="o" x1="237.10" y1="356.15" x2="364.50" y2="356.15" style="stroke:#c9cacc;stroke-width:0.9"/>
<line class="o" x1="237.10" y1="350.15" x2="364.50" y2="350.15" style="stroke:#d0d1d2;stroke-width:0.5"/>
<line class="dl" x1="236.60" y1="343.15" x2="364.50" y2="343.15"/>
<line class="dl" x1="236.60" y1="358.85" x2="364.50" y2="358.85"/>
<path class="of" transform="translate(0.00 0.00)" d="M243,341.55 V336.95 Q243,335.55 244.4,335.55 H298.6 Q300,335.55 300,336.95 V341.55 Z" style="fill:#efeff0"/>
<line class="o" x1="243.00" y1="340.05" x2="300.00" y2="340.05" style="stroke:#777;stroke-width:0.9"/>
<line class="o" x1="243.00" y1="341.55" x2="300.00" y2="341.55" style="stroke-width:0.9"/>
<rect class="of" x="364.50" y="341.55" width="26.00" height="18.80"/>
<rect class="ot" x="365.00" y="344.85" width="2.90" height="2.60" rx="0.8" style="fill:#f4f4f4"/>
<rect class="ot" x="365.00" y="349.65" width="2.90" height="2.60" rx="0.8" style="fill:#f4f4f4"/>
<rect class="ot" x="365.00" y="354.05" width="2.90" height="2.60" rx="0.8" style="fill:#f4f4f4"/>
<circle class="k" cx="387.90" cy="351.35" r="0.45"/>
<path class="ot" transform="translate(0.00 0.00)" d="M265.1,341.55 H279.09999999999997 V344.15000000000003 Q279.09999999999997,345.35 277.9,345.35 H274.09999999999997 V349.55 H270.1 V345.35 H266.3 Q265.1,345.35 265.1,344.15000000000003 Z" style="fill:#fbfbfb"/>
<circle class="k" cx="272.10" cy="339.15" r="0.50"/>
<rect class="of" x="266.00" y="337.85" width="3.80" height="3.50" rx="0.5" style="fill:#a9aaac"/>
<rect class="of" x="267.60" y="345.95" width="1.80" height="6.00" rx="0.8" style="fill:#fff"/>
<line class="o" x1="268.50" y1="351.95" x2="268.50" y2="360.95" style="stroke-width:1.1"/>
<line class="d" x1="265.30" y1="350.75" x2="271.70" y2="350.75"/>
<polygon class="a" points="267.60,350.75 266.00,350.30 266.00,351.20"/>
<polygon class="a" points="269.40,350.75 271.00,350.30 271.00,351.20"/>
<rect class="of" x="274.40" y="337.85" width="3.80" height="3.50" rx="0.5" style="fill:#a9aaac"/>
<rect class="of" x="274.80" y="345.95" width="1.80" height="6.00" rx="0.8" style="fill:#fff"/>
<line class="o" x1="275.70" y1="351.95" x2="275.70" y2="360.95" style="stroke-width:1.1"/>
<line class="d" x1="272.50" y1="350.75" x2="278.90" y2="350.75"/>
<polygon class="a" points="274.80,350.75 273.20,350.30 273.20,351.20"/>
<polygon class="a" points="276.60,350.75 278.20,350.30 278.20,351.20"/>
<rect class="of" x="329.60" y="345.95" width="1.80" height="6.00" rx="0.8" style="fill:#fff"/>
<line class="o" x1="330.50" y1="351.95" x2="330.50" y2="360.95" style="stroke-width:1.1"/>
<line class="d" x1="327.30" y1="350.75" x2="333.70" y2="350.75"/>
<polygon class="a" points="329.60,350.75 328.00,350.30 328.00,351.20"/>
<polygon class="a" points="331.40,350.75 333.00,350.30 333.00,351.20"/>
<text x="239.33" y="323.60" font-size="6.96" fill="#2b2b2b" textLength="14.78" lengthAdjust="spacingAndGlyphs" stroke="#2b2b2b" stroke-width="0.12">12.5</text>
<line class="d" x1="239.30" y1="324.70" x2="254.20" y2="324.70"/>
<line class="d" x1="239.50" y1="324.70" x2="239.50" y2="341.20"/>
<text x="247.70" y="333.00" font-size="6.81" fill="#E6384D" font-weight="700" textLength="4.83" lengthAdjust="spacingAndGlyphs">A</text>
<text x="247.70" y="367.60" font-size="6.81" fill="#E6384D" font-weight="700" textLength="4.83" lengthAdjust="spacingAndGlyphs">A</text>
<line class="c" x1="259.20" y1="329.00" x2="259.20" y2="366.80" style="stroke:#3a3a3a;stroke-width:0.6;stroke-dasharray:7 1 1.2 1"/>
<line class="d" x1="253.40" y1="331.00" x2="259.20" y2="331.00"/>
<polygon class="a" points="253.40,331.00 255.20,330.50 255.20,331.50"/>
<line class="d" x1="253.40" y1="365.40" x2="259.20" y2="365.40"/>
<polygon class="a" points="253.40,365.40 255.20,364.90 255.20,365.90"/>
<text x="267.68" y="327.30" font-size="6.81" fill="#2b2b2b" textLength="8.30" lengthAdjust="spacingAndGlyphs" stroke="#2b2b2b" stroke-width="0.12">40</text>
<line class="d" x1="265.40" y1="328.80" x2="277.80" y2="328.80"/>
<polygon class="a" points="265.40,328.80 267.60,328.25 267.60,329.35"/>
<polygon class="a" points="277.80,328.80 275.60,328.25 275.60,329.35"/>
<line class="d" x1="265.40" y1="328.00" x2="265.40" y2="341.00"/>
<line class="d" x1="277.80" y1="328.00" x2="277.80" y2="341.00"/>
<text x="284.49" y="314.40" font-size="7.10" fill="#2b2b2b" textLength="30.68" lengthAdjust="spacingAndGlyphs" stroke="#2b2b2b" stroke-width="0.12">4-M5<tspan style="font-size:78%" text-decoration="overline">▼</tspan>10</text>
<text x="284.37" y="322.22" font-size="7.23" fill="#222" font-weight="700" textLength="58.74" lengthAdjust="spacingAndGlyphs">對面相同位置兩孔</text>
<text x="284.31" y="328.80" font-size="6.45" fill="#8e8e8e" textLength="124.84" lengthAdjust="spacingAndGlyphs">2 holes on the same position at opposite side.</text>
<line class="d" x1="283.00" y1="331.40" x2="410.60" y2="331.40"/>
<line class="d" x1="283.00" y1="331.40" x2="277.40" y2="339.40"/>
<rect class="of" x="462.35" y="340.26" width="13.45" height="19.99" rx="0.6"/>
<path class="o" d="M475.80,343.48 L476.48,343.48 L476.48,345.43 L475.80,345.43"/>
<path class="o" d="M475.80,355.18 L476.48,355.18 L476.48,357.12 L475.80,357.12"/>
<rect class="of" x="442.06" y="336.16" width="20.28" height="24.08" rx="0.5"/>
<rect class="of" x="443.62" y="337.24" width="16.19" height="4.10" rx="0.5" style="fill:#f2f2f2;stroke-width:0.7"/>
<rect class="k" x="445.19" y="338.01" width="13.06" height="2.34" style="fill:#666"/>
<line class="ot" x1="462.35" y1="341.33" x2="442.06" y2="341.33"/>
<line class="o" x1="452.01" y1="341.33" x2="452.01" y2="360.25"/>
<circle class="k" cx="457.96" cy="343.67" r="0.88"/>
<circle class="k" cx="445.48" cy="343.67" r="0.88"/>
<circle class="k" cx="458.54" cy="351.47" r="0.88"/>
<circle class="k" cx="444.99" cy="351.47" r="0.88"/>
<circle class="k" cx="460.00" cy="357.51" r="0.88"/>
<circle class="k" cx="444.01" cy="357.51" r="0.88"/>
<rect class="ot" x="442.06" y="346.01" width="2.34" height="9.75" style="fill:#f4f4f4"/>
<rect class="k" x="440.12" y="358.69" width="4.88" height="1.17"/>
<rect class="of" x="437.97" y="341.23" width="4.09" height="18.62"/>
<circle class="o" cx="440.31" cy="353.81" r="1.36"/>
<circle class="k" cx="440.31" cy="353.81" r="0.49"/>
<rect class="of" x="400.53" y="341.53" width="37.44" height="17.06" rx="0.5"/>
<line class="ot" x1="437.97" y1="343.67" x2="407.36" y2="343.67"/>
<line class="ot" x1="437.97" y1="356.44" x2="407.36" y2="356.44"/>
<line class="o" x1="407.36" y1="341.53" x2="407.36" y2="358.59"/>
<rect class="ot" x="409.50" y="346.99" width="5.27" height="8.38" rx="1.2" style="fill:#f1f1f1"/>
<rect class="ot" x="411.25" y="349.32" width="1.75" height="4.29" rx="0.8"/>
<rect class="ot" x="401.50" y="344.06" width="4.88" height="5.66" rx="1" style="fill:#f1f1f1"/>
<rect class="ot" x="401.50" y="351.67" width="4.88" height="4.88" rx="1" style="fill:#f1f1f1"/>
<circle class="k" cx="406.77" cy="342.89" r="0.68"/>
<circle class="k" cx="406.77" cy="357.32" r="0.68"/>
<line class="c" x1="440.70" y1="350.30" x2="397.61" y2="350.30" style="stroke-dasharray:4 1.4"/>
<line class="d" x1="445.20" y1="351.60" x2="452.60" y2="364.60"/>
<line class="d" x1="458.60" y1="351.60" x2="452.60" y2="364.60"/>
<text x="428.69" y="371.33" font-size="7.02" fill="#222" font-weight="700" textLength="58.83" lengthAdjust="spacingAndGlyphs">皮帶張力調整螺絲</text>
<text x="421.93" y="378.00" font-size="6.59" fill="#8e8e8e" textLength="75.61" lengthAdjust="spacingAndGlyphs">Belt tension adjusting screw.</text>
<text x="95.00" y="558.50" font-size="7.39" fill="#E6384D" textLength="30.71" lengthAdjust="spacingAndGlyphs">A-A View</text>
<rect class="g" x="97.60" y="571.60" width="22.30" height="23.90"/>
<line class="o" x1="97.60" y1="595.50" x2="119.90" y2="595.50"/>
<path class="o" transform="translate(11.00 360.00)" d="M86.6,212 v3.2 h1.6 v1.6 h-1.6 v2.6 h1.8 v1.2 h-1.8 v3 h1.8 v1.4 h-1.8 v3.2 h1.6 v1.4 h-1.6 v3.2 h2.6 v-1.8" style="stroke-width:1"/>
<path class="o" transform="translate(11.00 360.00)" d="M108.9,212 v3.2 h-1.6 v1.6 h1.6 v2.6 h-1.8 v1.2 h1.8 v3 h-1.8 v1.4 h1.8 v3.2 h-1.6 v1.4 h1.6 v3.2 h-2.6 v-1.8" style="stroke-width:1"/>
<rect class="of" x="96.00" y="564.60" width="25.00" height="7.40" rx="1.3"/>
<line class="ot" x1="96.60" y1="570.60" x2="120.40" y2="570.60"/>
<rect class="ot" x="121.00" y="567.70" width="1.90" height="2.30" rx="0.5" style="fill:#8a8a8a;stroke:#444"/>
<line class="c" x1="108.30" y1="562.80" x2="108.30" y2="597.20" style="stroke-dasharray:4 1 0.8 1"/>
<text x="90.28" y="577.20" font-size="7.54" fill="#F7941E" textLength="4.96" lengthAdjust="spacingAndGlyphs">C</text>
<text x="123.38" y="574.20" font-size="7.25" fill="#6ABD45" textLength="5.69" lengthAdjust="spacingAndGlyphs">D</text>
<text x="119.37" y="601.60" font-size="7.25" fill="#2AABE2" textLength="4.51" lengthAdjust="spacingAndGlyphs">B</text>
<circle class="o" cx="97.60" cy="584.50" r="2.35" style="stroke:#F7941E;stroke-width:0.8"/>
<circle class="o" cx="119.20" cy="575.60" r="2.90" style="stroke:#6ABD45;stroke-width:0.8"/>
<circle class="o" cx="118.30" cy="589.30" r="3.10" style="stroke:#2AABE2;stroke-width:0.8"/>
<text transform="translate(88.20 588.20) rotate(-90)" x="-0.36" y="0" font-size="7.25" fill="#2b2b2b" textLength="8.47" lengthAdjust="spacingAndGlyphs" stroke="#2b2b2b" stroke-width="0.12">26</text>
<text transform="translate(88.20 604.20) rotate(-90)" x="-0.47" y="0" font-size="7.25" fill="#2b2b2b" textLength="8.38" lengthAdjust="spacingAndGlyphs" stroke="#2b2b2b" stroke-width="0.12">18</text>
<line class="d" x1="90.00" y1="578.00" x2="90.00" y2="605.00"/>
<line class="d" x1="89.20" y1="579.50" x2="97.00" y2="579.50"/>
<line class="d" x1="89.20" y1="589.50" x2="97.00" y2="589.50"/>
<line class="d" x1="89.20" y1="595.60" x2="97.40" y2="595.60"/>
<polygon class="a" points="90.00,579.50 89.55,581.30 90.45,581.30"/>
<polygon class="a" points="90.00,589.50 89.55,587.70 90.45,587.70"/>
<polygon class="a" points="90.00,589.50 89.55,591.30 90.45,591.30"/>
<polygon class="a" points="90.00,595.60 89.55,593.80 90.45,593.80"/>
<text x="104.76" y="605.00" font-size="6.96" fill="#2b2b2b" textLength="8.43" lengthAdjust="spacingAndGlyphs" stroke="#2b2b2b" stroke-width="0.12">50</text>
<line class="d" x1="98.50" y1="596.80" x2="98.50" y2="607.60"/>
<line class="d" x1="117.60" y1="596.80" x2="117.60" y2="607.60"/>
<line class="d" x1="98.50" y1="606.30" x2="117.60" y2="606.30"/>
<polygon class="a" points="98.50,606.30 100.70,605.75 100.70,606.85"/>
<polygon class="a" points="117.60,606.30 115.40,605.75 115.40,606.85"/>
<text transform="translate(128.80 583.60) rotate(-90)" x="-0.36" y="0" font-size="7.54" fill="#2b2b2b" textLength="8.55" lengthAdjust="spacingAndGlyphs" stroke="#2b2b2b" stroke-width="0.12">24</text>
<text transform="translate(128.80 594.40) rotate(-90)" x="-0.24" y="0" font-size="7.54" fill="#2b2b2b" textLength="8.55" lengthAdjust="spacingAndGlyphs" stroke="#2b2b2b" stroke-width="0.12">31</text>
<line class="d" x1="131.00" y1="574.40" x2="131.00" y2="596.40"/>
<line class="d" x1="121.50" y1="575.00" x2="132.00" y2="575.00"/>
<line class="d" x1="121.50" y1="584.60" x2="132.00" y2="584.60"/>
<line class="d" x1="120.50" y1="595.60" x2="132.00" y2="595.60"/>
<polygon class="a" points="131.00,575.00 130.55,576.80 131.45,576.80"/>
<polygon class="a" points="131.00,584.60 130.55,582.80 131.45,582.80"/>
<polygon class="a" points="131.00,584.60 130.55,586.40 131.45,586.40"/>
<polygon class="a" points="131.00,595.60 130.55,593.80 131.45,593.80"/>
<line class="dl" x1="122.40" y1="584.60" x2="122.40" y2="595.60"/>
<text x="157.36" y="558.50" font-size="7.39" fill="#F7941E" textLength="23.05" lengthAdjust="spacingAndGlyphs">C View</text>
<text transform="translate(157.50 573.00) rotate(-90)" x="-0.20" y="0" font-size="7.54" fill="#2b2b2b" textLength="9.07" lengthAdjust="spacingAndGlyphs" stroke="#2b2b2b" stroke-width="0.12">3.5</text>
<text transform="translate(149.50 581.80) rotate(-90)" x="-0.21" y="0" font-size="7.54" fill="#2b2b2b" textLength="9.28" lengthAdjust="spacingAndGlyphs" stroke="#2b2b2b" stroke-width="0.12">5.7</text>
<text x="166.50" y="568.90" font-size="7.10" fill="#2b2b2b" textLength="3.56" lengthAdjust="spacingAndGlyphs" stroke="#2b2b2b" stroke-width="0.12">3</text>
<text x="178.07" y="569.50" font-size="6.96" fill="#2b2b2b" textLength="10.23" lengthAdjust="spacingAndGlyphs" stroke="#2b2b2b" stroke-width="0.12">3.5</text>
<line class="d" x1="176.90" y1="570.50" x2="188.70" y2="570.50"/>
<line class="d" x1="177.30" y1="570.50" x2="177.30" y2="585.20"/>
<text x="151.87" y="591.50" font-size="6.81" fill="#2b2b2b" textLength="9.61" lengthAdjust="spacingAndGlyphs" stroke="#2b2b2b" stroke-width="0.12">1.8</text>
<line class="d" x1="150.70" y1="592.50" x2="171.70" y2="592.50"/>
<text x="174.08" y="597.80" font-size="6.96" fill="#2b2b2b" textLength="9.70" lengthAdjust="spacingAndGlyphs" stroke="#2b2b2b" stroke-width="0.12">5.5</text>
<line class="d" x1="159.20" y1="599.00" x2="184.70" y2="599.00"/>
<line class="d" x1="150.90" y1="571.00" x2="150.90" y2="586.20"/>
<line class="d" x1="159.00" y1="565.60" x2="159.00" y2="585.20"/>
<line class="d" x1="161.20" y1="570.30" x2="175.30" y2="570.30"/>
<polygon class="a" points="164.60,570.30 162.80,569.85 162.80,570.75"/>
<polygon class="a" points="170.30,570.30 172.10,569.85 172.10,570.75"/>
<line class="d" x1="164.60" y1="569.60" x2="164.60" y2="599.60"/>
<line class="d" x1="170.30" y1="569.60" x2="170.30" y2="599.60"/>
<line class="d" x1="167.10" y1="582.50" x2="167.10" y2="593.00"/>
<line class="dl" x1="150.10" y1="574.60" x2="178.10" y2="574.60"/>
<line class="dl" x1="150.10" y1="580.70" x2="178.10" y2="580.70"/>
<line class="dl" x1="158.70" y1="576.60" x2="178.10" y2="576.60"/>
<line class="dl" x1="158.70" y1="578.80" x2="178.10" y2="578.80"/>
<polygon class="a" points="150.90,574.60 150.45,576.40 151.35,576.40"/>
<polygon class="a" points="150.90,580.70 150.45,578.90 151.35,578.90"/>
<polygon class="a" points="159.00,574.60 158.55,572.80 159.45,572.80"/>
<polygon class="a" points="177.30,576.60 176.85,574.80 177.75,574.80"/>
<polygon class="a" points="177.30,578.80 176.85,580.60 177.75,580.60"/>
<path class="o" transform="translate(19.70 360.00)" d="M144.9,213.6 h4 a2.1,2.1 0 0 1 2.1,2.1 v3.8 a2.1,2.1 0 0 1 -2.1,2.1 h-4 M144.9,213.6 v2.2 h1.8 M144.9,221.6 v-2.2 h1.8" style="stroke-width:0.85"/>
<text x="101.02" y="627.50" font-size="7.39" fill="#2AABE2" textLength="22.89" lengthAdjust="spacingAndGlyphs">B View</text>
<text x="124.67" y="633.20" font-size="6.96" fill="#2b2b2b" textLength="10.12" lengthAdjust="spacingAndGlyphs" stroke="#2b2b2b" stroke-width="0.12">5.2</text>
<line class="d" x1="124.00" y1="634.30" x2="135.00" y2="634.30"/>
<line class="d" x1="124.50" y1="634.30" x2="124.50" y2="650.00"/>
<text transform="translate(92.20 643.80) rotate(-90)" x="-0.42" y="0" font-size="7.25" fill="#2b2b2b" textLength="4.98" lengthAdjust="spacingAndGlyphs" stroke="#2b2b2b" stroke-width="0.12">9</text>
<text transform="translate(100.20 646.40) rotate(-90)" x="-0.22" y="0" font-size="7.25" fill="#2b2b2b" textLength="9.91" lengthAdjust="spacingAndGlyphs" stroke="#2b2b2b" stroke-width="0.12">5.5</text>
<line class="d" x1="92.90" y1="635.40" x2="92.90" y2="647.40"/>
<line class="d" x1="101.50" y1="633.00" x2="101.50" y2="650.00"/>
<line class="d" x1="92.20" y1="636.50" x2="107.00" y2="636.50"/>
<line class="d" x1="92.20" y1="646.30" x2="107.00" y2="646.30"/>
<line class="dl" x1="100.60" y1="639.40" x2="124.80" y2="639.40"/>
<line class="dl" x1="100.60" y1="644.00" x2="124.80" y2="644.00"/>
<line class="dl" x1="111.00" y1="640.80" x2="124.80" y2="640.80"/>
<line class="dl" x1="111.00" y1="642.60" x2="124.80" y2="642.60"/>
<path class="o" transform="translate(11.00 369.00)" d="M105.4,266.4 v1.8 a1.4,1.4 0 0 1 -1.4,1.4 h-0.2 v-2.2 h-4.4 a3.6,3.6 0 0 0 -3.6,3.6 v3.2 a3.6,3.6 0 0 0 3.6,3.6 h4.4 v-2.2 h1.6 v4" style="stroke-width:0.85"/>
<text x="108.85" y="654.00" font-size="6.96" fill="#2b2b2b" textLength="4.48" lengthAdjust="spacingAndGlyphs" stroke="#2b2b2b" stroke-width="0.12">5</text>
<line class="d" x1="106.60" y1="647.00" x2="106.60" y2="667.00"/>
<line class="d" x1="116.60" y1="647.00" x2="116.60" y2="667.00"/>
<line class="d" x1="113.60" y1="647.00" x2="113.60" y2="660.00"/>
<line class="d" x1="102.50" y1="655.10" x2="118.50" y2="655.10"/>
<polygon class="a" points="106.60,655.10 104.80,654.65 104.80,655.55"/>
<polygon class="a" points="113.60,655.10 115.40,654.65 115.40,655.55"/>
<text x="119.87" y="657.80" font-size="6.96" fill="#2b2b2b" textLength="9.92" lengthAdjust="spacingAndGlyphs" stroke="#2b2b2b" stroke-width="0.12">2.5</text>
<line class="d" x1="108.00" y1="659.00" x2="130.40" y2="659.00"/>
<polygon class="a" points="113.60,659.00 111.80,658.55 111.80,659.45"/>
<polygon class="a" points="116.60,659.00 118.40,658.55 118.40,659.45"/>
<text x="106.78" y="664.80" font-size="6.96" fill="#2b2b2b" textLength="9.91" lengthAdjust="spacingAndGlyphs" stroke="#2b2b2b" stroke-width="0.12">8.5</text>
<line class="d" x1="105.60" y1="666.00" x2="117.40" y2="666.00"/>
<polygon class="a" points="106.60,666.30 108.40,665.85 108.40,666.75"/>
<polygon class="a" points="116.60,666.30 114.80,665.85 114.80,666.75"/>
<text x="146.41" y="627.50" font-size="7.39" fill="#6ABD45" textLength="23.70" lengthAdjust="spacingAndGlyphs">D View</text>
<text x="169.78" y="633.20" font-size="6.96" fill="#2b2b2b" textLength="9.81" lengthAdjust="spacingAndGlyphs" stroke="#2b2b2b" stroke-width="0.12">5.7</text>
<line class="d" x1="169.00" y1="634.30" x2="179.60" y2="634.30"/>
<line class="d" x1="169.40" y1="634.30" x2="169.40" y2="650.00"/>
<text transform="translate(143.80 644.60) rotate(-90)" x="-0.33" y="0" font-size="7.54" fill="#2b2b2b" textLength="9.82" lengthAdjust="spacingAndGlyphs" stroke="#2b2b2b" stroke-width="0.12">6.7</text>
<line class="d" x1="145.30" y1="633.00" x2="145.30" y2="651.00"/>
<line class="dl" x1="144.60" y1="638.50" x2="169.60" y2="638.50"/>
<line class="dl" x1="144.60" y1="645.10" x2="169.60" y2="645.10"/>
<line class="dl" x1="153.00" y1="641.20" x2="163.00" y2="641.20"/>
<line class="dl" x1="153.00" y1="642.60" x2="163.00" y2="642.60"/>
<polygon class="a" points="145.30,638.50 144.85,640.30 145.75,640.30"/>
<polygon class="a" points="145.30,645.10 144.85,643.30 145.75,643.30"/>
<polygon class="a" points="169.40,638.50 168.95,636.70 169.85,636.70"/>
<polygon class="a" points="169.40,645.10 168.95,646.90 169.85,646.90"/>
<path class="o" transform="translate(11.00 369.00)" d="M146.2,264.2 q2.4,1.6 2.4,4 v1.3 h-9 v7 h9 v4.6" style="stroke-width:0.85"/>
<text x="155.75" y="656.20" font-size="6.96" fill="#2b2b2b" textLength="4.36" lengthAdjust="spacingAndGlyphs" stroke="#2b2b2b" stroke-width="0.12">5</text>
<line class="d" x1="150.60" y1="646.00" x2="150.60" y2="666.60"/>
<line class="d" x1="159.60" y1="650.00" x2="159.60" y2="666.60"/>
<line class="d" x1="154.60" y1="646.00" x2="154.60" y2="658.00"/>
<line class="d" x1="148.00" y1="657.50" x2="165.00" y2="657.50"/>
<polygon class="a" points="154.60,657.50 152.80,657.05 152.80,657.95"/>
<polygon class="a" points="159.60,657.50 161.40,657.05 161.40,657.95"/>
<text x="137.38" y="664.60" font-size="7.25" fill="#2b2b2b" textLength="9.91" lengthAdjust="spacingAndGlyphs" stroke="#2b2b2b" stroke-width="0.12">8.5</text>
<line class="d" x1="137.00" y1="665.80" x2="172.00" y2="665.80"/>
<polygon class="a" points="150.60,665.80 148.80,665.35 148.80,666.25"/>
<polygon class="a" points="159.60,665.80 161.40,665.35 161.40,666.25"/>
<text x="423.73" y="552.98" font-size="7.13" fill="#222" font-weight="500" textLength="51.86" lengthAdjust="spacingAndGlyphs">馬達固定孔尺寸</text>
<text x="432.76" y="559.15" font-size="6.45" fill="#8e8e8e" textLength="32.68" lengthAdjust="spacingAndGlyphs">Dimensions</text>
<text x="457.71" y="570.40" font-size="6.92" fill="#222" textLength="56.76" lengthAdjust="spacingAndGlyphs"><tspan font-weight="700">型號</tspan>M4<tspan font-weight="700">為</tspan>M5<tspan font-weight="700">牙孔</tspan></text>
<text x="457.62" y="576.15" font-size="6.30" fill="#8e8e8e" textLength="79.45" lengthAdjust="spacingAndGlyphs">Model M4 using M5 tapping hole</text>
<text x="457.71" y="583.61" font-size="6.82" fill="#222" textLength="55.25" lengthAdjust="spacingAndGlyphs"><tspan font-weight="700">型號</tspan>P4<tspan font-weight="700">為</tspan>M4<tspan font-weight="700">牙孔</tspan></text>
<text x="457.62" y="589.55" font-size="6.30" fill="#8e8e8e" textLength="78.65" lengthAdjust="spacingAndGlyphs">Model P4 using M4 tapping hole</text>
<line class="d" x1="457.45" y1="591.85" x2="539.25" y2="591.85"/>
<line class="d" x1="457.45" y1="591.85" x2="454.05" y2="597.35"/>
<text x="414.53" y="591.15" font-size="7.25" fill="#2b2b2b" textLength="21.59" lengthAdjust="spacingAndGlyphs" stroke="#2b2b2b" stroke-width="0.12">PCD70</text>
<line class="d" x1="414.45" y1="592.15" x2="429.65" y2="592.15"/>
<line class="d" x1="429.65" y1="592.15" x2="437.85" y2="597.95"/>
<path class="of" transform="translate(-12.75 364.55)" d="M450.35,230.55 H466.35 Q469.55,230.55 469.55,233.75 V249.75 Q469.55,252.95 466.35,252.95 H450.35 Q447.15000000000003,252.95 447.15000000000003,249.75 V233.75 Q447.15000000000003,230.55 450.35,230.55 Z" style="stroke-width:0.8"/>
<path class="ot" transform="translate(-12.75 364.55)" d="M448.35,234.55 V248.95 M468.35,234.55 V248.95 M451.15000000000003,231.75 H465.55 M451.15000000000003,251.75 H465.55"/>
<circle class="ot" cx="445.60" cy="606.30" r="8.40"/>
<circle class="o" cx="445.60" cy="606.30" r="6.10" style="fill:#eeeeef;stroke-width:0.9"/>
<circle class="o" cx="445.60" cy="606.30" r="3.40" style="stroke-width:1.2;fill:#d0d1d2"/>
<circle class="o" cx="445.60" cy="606.30" r="1.50" style="fill:#fafafa;stroke-width:0.6"/>
<circle class="k" cx="437.50" cy="598.10" r="1.15"/>
<circle class="k" cx="437.50" cy="614.50" r="1.15"/>
<circle class="k" cx="453.70" cy="598.10" r="1.15"/>
<circle class="k" cx="453.70" cy="614.50" r="1.15"/>
<line class="dl" x1="432.40" y1="606.30" x2="459.00" y2="606.30"/>
<line class="dl" x1="445.60" y1="593.10" x2="445.60" y2="619.50"/>
<path class="d" transform="translate(-12.75 364.55)" d="M444.9,241.4 H443.3 V244.2 M471.8,241.4 H473.6 V244.2"/>
<text x="427.86" y="616.15" font-size="7.83" fill="#2E9B94" font-weight="700" textLength="4.15" lengthAdjust="spacingAndGlyphs">E</text>
<text x="458.86" y="616.15" font-size="7.83" fill="#2E9B94" font-weight="700" textLength="4.15" lengthAdjust="spacingAndGlyphs">E</text>
<text x="429.24" y="649.80" font-size="7.68" fill="#2E9B94" textLength="29.47" lengthAdjust="spacingAndGlyphs">E-E View</text>
<text x="434.77" y="658.90" font-size="7.25" fill="#2b2b2b" textLength="24.92" lengthAdjust="spacingAndGlyphs" stroke="#2b2b2b" stroke-width="0.12">Ø50 H8</text>
<text x="439.28" y="666.10" font-size="7.25" fill="#2b2b2b" textLength="13.09" lengthAdjust="spacingAndGlyphs" stroke="#2b2b2b" stroke-width="0.12">Ø14</text>
<text x="425.07" y="667.10" font-size="7.25" fill="#2b2b2b" textLength="3.92" lengthAdjust="spacingAndGlyphs" stroke="#2b2b2b" stroke-width="0.12">6</text>
<line class="d" x1="434.10" y1="660.00" x2="454.40" y2="660.00"/>
<line class="d" x1="434.10" y1="660.00" x2="434.10" y2="673.10"/>
<line class="d" x1="454.40" y1="660.00" x2="454.40" y2="673.10"/>
<line class="d" x1="437.20" y1="667.40" x2="451.40" y2="667.40"/>
<polygon class="a" points="441.00,667.40 442.80,666.95 442.80,667.85"/>
<polygon class="a" points="447.60,667.40 445.80,666.95 445.80,667.85"/>
<line class="d" x1="441.00" y1="667.10" x2="441.00" y2="675.10"/>
<line class="d" x1="447.60" y1="667.10" x2="447.60" y2="675.10"/>
<line class="d" x1="424.90" y1="662.10" x2="424.90" y2="679.50"/>
<line class="d" x1="424.20" y1="672.70" x2="431.80" y2="672.70"/>
<line class="d" x1="424.20" y1="675.80" x2="431.80" y2="675.80"/>
<path class="o" transform="translate(-64.20 398.10)" d="M495.6,284.4 Q495.8,287.3 499,287.3 H503.4 Q506,287.3 506.4,284.4 Z" style="fill:#c4c5c7"/>
<path class="o" transform="translate(-64.20 398.10)" d="M510.8,284.4 Q511.2,287.3 513.8,287.3 H518.2 Q521.4,287.3 521.6,284.4 Z" style="fill:#c4c5c7"/>
<rect class="of" x="431.00" y="672.70" width="26.80" height="10.00" rx="0.8" style="stroke-width:0.9;fill:#dcdddf"/>
<line class="o" x1="431.00" y1="674.20" x2="457.80" y2="674.20"/>
<rect class="g2" x="432.80" y="674.20" width="2.20" height="8.50"/>
<rect class="g2" x="453.80" y="674.20" width="2.20" height="8.50"/>
<rect class="o" x="436.40" y="675.50" width="3.80" height="4.80" style="fill:#8f9092"/>
<rect class="o" x="448.60" y="675.50" width="3.80" height="4.80" style="fill:#8f9092"/>
<rect class="ot" x="441.40" y="674.20" width="6.00" height="8.50" style="fill:#f3f3f3"/>
<line class="c" x1="444.40" y1="667.70" x2="444.40" y2="688.50" style="stroke-dasharray:3 0.8 0.8 0.8"/>
<line class="d" x1="207.00" y1="627.50" x2="207.00" y2="671.00"/>
<line class="d" x1="393.50" y1="613.00" x2="393.50" y2="671.00"/>
<line class="d" x1="254.60" y1="613.00" x2="254.60" y2="645.20"/>
<line class="d" x1="282.60" y1="597.00" x2="282.60" y2="661.00"/>
<line class="d" x1="336.70" y1="597.00" x2="336.70" y2="661.00"/>
<line class="d" x1="364.80" y1="613.00" x2="364.80" y2="640.60"/>
<line class="d" x1="256.50" y1="566.40" x2="256.50" y2="595.40"/>
<line class="d" x1="308.00" y1="566.40" x2="308.00" y2="595.40"/>
<line class="d" x1="261.30" y1="575.40" x2="261.30" y2="595.40"/>
<line class="d" x1="302.50" y1="575.40" x2="302.50" y2="595.40"/>
<line class="d" x1="275.20" y1="584.80" x2="275.20" y2="595.40"/>
<line class="d" x1="289.50" y1="584.80" x2="289.50" y2="595.40"/>
<rect class="of" x="208.69" y="597.74" width="16.88" height="15.38"/>
<rect class="ot" x="210.94" y="599.42" width="3.19" height="10.97" style="fill:#f6f6f6"/>
<line class="o" x1="210.94" y1="610.40" x2="210.94" y2="599.42"/>
<line class="o" x1="214.13" y1="610.40" x2="214.13" y2="599.42"/>
<rect class="ot" x="220.13" y="599.42" width="3.19" height="10.97" style="fill:#f6f6f6"/>
<line class="o" x1="220.13" y1="610.40" x2="220.13" y2="599.42"/>
<line class="o" x1="223.32" y1="610.40" x2="223.32" y2="599.42"/>
<rect class="of" x="207.94" y="592.11" width="18.19" height="5.63"/>
<line class="ot" x1="207.94" y1="596.24" x2="226.13" y2="596.24"/>
<line class="ot" x1="207.94" y1="593.61" x2="226.13" y2="593.61"/>
<rect class="of" x="209.25" y="570.54" width="15.94" height="21.57"/>
<line class="ot" x1="211.31" y1="592.11" x2="211.31" y2="570.54"/>
<line class="ot" x1="223.13" y1="592.11" x2="223.13" y2="570.54"/>
<line class="dl" x1="213.94" y1="590.23" x2="213.94" y2="572.42"/>
<line class="dl" x1="220.50" y1="590.23" x2="220.50" y2="572.42"/>
<rect class="of" x="208.31" y="564.45" width="17.35" height="6.10" rx="0.8"/>
<line class="ot" x1="209.25" y1="569.04" x2="225.19" y2="569.04"/>
<rect class="ot" x="211.13" y="565.29" width="2.06" height="3.00" style="fill:#cfd0d1"/>
<rect class="ot" x="214.88" y="565.29" width="2.06" height="3.00" style="fill:#cfd0d1"/>
<rect class="ot" x="218.63" y="565.29" width="2.06" height="3.00" style="fill:#cfd0d1"/>
<rect class="ot" x="221.63" y="565.29" width="2.06" height="3.00" style="fill:#cfd0d1"/>
<rect class="of" x="204.56" y="578.42" width="2.63" height="6.94" rx="0.6"/>
<rect class="of" x="205.87" y="572.98" width="2.44" height="5.44" rx="0.6"/>
<rect class="of" x="204.09" y="564.92" width="5.16" height="8.06" rx="0.8"/>
<circle class="o" cx="206.25" cy="575.79" r="0.84"/>
<line class="c" x1="217.22" y1="615.55" x2="217.22" y2="561.17" style="stroke-dasharray:4 1 0.8 1"/>
<rect class="of" x="229.88" y="595.30" width="19.32" height="17.82"/>
<line class="o" x1="231.01" y1="610.30" x2="231.01" y2="608.61"/>
<line class="o" x1="231.01" y1="600.36" x2="231.01" y2="598.30"/>
<rect class="k" x="232.51" y="594.17" width="3.19" height="1.31"/>
<rect class="k" x="242.82" y="594.17" width="4.13" height="1.31"/>
<rect class="of" x="207.00" y="613.11" width="42.20" height="14.63"/>
<line class="ot" x1="207.00" y1="614.52" x2="249.20" y2="614.52"/>
<line class="dl" x1="207.56" y1="626.24" x2="248.63" y2="626.24"/>
<rect class="of" x="249.20" y="595.39" width="7.41" height="17.82"/>
<rect class="of" x="256.60" y="595.39" width="136.90" height="17.82"/>
<line class="dl" x1="249.20" y1="610.30" x2="256.60" y2="610.30"/>
<line class="dl" x1="249.20" y1="607.49" x2="256.60" y2="607.49"/>
<line class="dl" x1="249.20" y1="601.30" x2="256.60" y2="601.30"/>
<line class="dl" x1="249.20" y1="598.49" x2="256.60" y2="598.49"/>
<line class="dl" x1="254.45" y1="613.21" x2="254.45" y2="595.39"/>
<rect class="of" x="246.57" y="600.17" width="3.19" height="8.72" rx="1.2" style="fill:#f4f4f4"/>
<circle class="k" cx="248.17" cy="607.11" r="0.70"/>
<circle class="k" cx="248.17" cy="604.58" r="0.70"/>
<circle class="k" cx="248.17" cy="602.05" r="0.70"/>
<line class="ot" x1="308.18" y1="611.52" x2="369.13" y2="611.52"/>
<line class="dl" x1="308.18" y1="609.18" x2="369.13" y2="609.18"/>
<line class="dl" x1="308.18" y1="599.61" x2="369.13" y2="599.61"/>
<line class="ot" x1="308.18" y1="597.17" x2="369.13" y2="597.17"/>
<rect class="g2" x="308.18" y="597.55" width="60.95" height="3.75" style="opacity:.55"/>
<rect class="o" x="256.60" y="595.39" width="51.57" height="17.82" style="stroke-width:0.7"/>
<path class="ot" d="M263.82,611.15 L264.95,609.27 L272.45,609.27 L273.58,611.15"/>
<path class="ot" d="M290.74,611.15 L291.86,609.27 L299.64,609.27 L300.77,611.15"/>
<path class="ot" d="M258.01,609.27 L259.70,609.27 L260.45,611.15"/>
<path class="ot" d="M276.95,611.15 L277.70,609.27 L280.70,609.27"/>
<path class="ot" d="M284.64,609.27 L286.70,609.27 L287.45,611.15"/>
<path class="ot" d="M304.15,611.15 L304.90,609.27 L306.96,609.27"/>
<circle class="k" cx="262.04" cy="610.11" r="0.80"/>
<circle class="k" cx="275.36" cy="610.11" r="0.80"/>
<circle class="k" cx="288.95" cy="610.11" r="0.80"/>
<circle class="k" cx="302.55" cy="610.11" r="0.80"/>
<circle class="k" cx="282.67" cy="610.11" r="0.56"/>
<path class="ot" d="M263.82,597.45 L264.95,599.33 L272.45,599.33 L273.58,597.45"/>
<path class="ot" d="M290.74,597.45 L291.86,599.33 L299.64,599.33 L300.77,597.45"/>
<path class="ot" d="M258.01,599.33 L259.70,599.33 L260.45,597.45"/>
<path class="ot" d="M276.95,597.45 L277.70,599.33 L280.70,599.33"/>
<path class="ot" d="M284.64,599.33 L286.70,599.33 L287.45,597.45"/>
<path class="ot" d="M304.15,597.45 L304.90,599.33 L306.96,599.33"/>
<circle class="k" cx="262.04" cy="598.49" r="0.80"/>
<circle class="k" cx="275.36" cy="598.49" r="0.80"/>
<circle class="k" cx="288.95" cy="598.49" r="0.80"/>
<circle class="k" cx="302.55" cy="598.49" r="0.80"/>
<circle class="k" cx="282.67" cy="598.49" r="0.56"/>
<line class="ot" x1="310.99" y1="613.21" x2="310.99" y2="595.39"/>
<line class="dl" x1="313.34" y1="613.21" x2="313.34" y2="595.39"/>
<rect class="of" x="369.13" y="595.39" width="24.38" height="17.82"/>
<line class="ot" x1="361.91" y1="613.21" x2="361.91" y2="595.39"/>
<line class="ot" x1="364.44" y1="613.21" x2="364.44" y2="595.39"/>
<line class="dl" x1="366.78" y1="613.21" x2="366.78" y2="595.39"/>
<rect class="of" x="369.60" y="599.99" width="3.28" height="8.63" rx="1.4" style="fill:#f4f4f4"/>
<circle class="k" cx="371.19" cy="606.08" r="0.70"/>
<circle class="k" cx="371.19" cy="602.52" r="0.70"/>
<line class="o" x1="249.20" y1="613.21" x2="393.51" y2="613.21" style="stroke-width:0.8"/>
<line class="o" x1="249.20" y1="595.39" x2="393.51" y2="595.39" style="stroke-width:0.8"/>
<line class="c" x1="228.10" y1="604.11" x2="396.88" y2="604.11"/>
<rect class="of" x="275.36" y="613.21" width="14.07" height="1.59"/>
<path class="o" d="M277.70,614.80 L280.52,614.80" style="stroke-width:0.9"/>
<line class="o" x1="279.11" y1="614.80" x2="279.11" y2="621.18" style="stroke-width:1.1"/>
<path class="o" d="M284.27,614.80 L287.08,614.80" style="stroke-width:0.9"/>
<line class="o" x1="285.67" y1="614.80" x2="285.67" y2="621.18" style="stroke-width:1.1"/>
<path class="o" d="M333.40,613.49 L335.09,614.80 L338.84,614.80 L340.53,613.49"/>
<line class="o" x1="337.06" y1="614.80" x2="337.06" y2="620.62" style="stroke-width:1.1"/>
<line class="d" x1="282.60" y1="597.00" x2="282.60" y2="613.50"/>
<line class="d" x1="336.70" y1="597.00" x2="336.70" y2="613.50"/>
<line class="d" x1="315.00" y1="589.60" x2="315.00" y2="615.40"/>
<line class="dl" x1="364.80" y1="595.40" x2="364.80" y2="613.00"/>
<text x="276.34" y="565.90" font-size="6.81" fill="#2b2b2b" textLength="12.35" lengthAdjust="spacingAndGlyphs" stroke="#2b2b2b" stroke-width="0.12">190</text>
<line class="d" x1="256.50" y1="567.50" x2="308.00" y2="567.50"/>
<polygon class="a" points="256.50,567.50 258.70,566.95 258.70,568.05"/>
<polygon class="a" points="308.00,567.50 305.80,566.95 305.80,568.05"/>
<text x="276.34" y="574.90" font-size="6.81" fill="#2b2b2b" textLength="12.35" lengthAdjust="spacingAndGlyphs" stroke="#2b2b2b" stroke-width="0.12">150</text>
<line class="d" x1="261.30" y1="576.40" x2="302.50" y2="576.40"/>
<polygon class="a" points="261.30,576.40 263.50,575.85 263.50,576.95"/>
<polygon class="a" points="302.50,576.40 300.30,575.85 300.30,576.95"/>
<text x="278.26" y="584.90" font-size="6.81" fill="#2b2b2b" textLength="8.53" lengthAdjust="spacingAndGlyphs" stroke="#2b2b2b" stroke-width="0.12">50</text>
<line class="d" x1="275.20" y1="585.90" x2="289.50" y2="585.90"/>
<polygon class="a" points="275.20,585.90 277.40,585.35 277.40,586.45"/>
<polygon class="a" points="289.50,585.90 287.30,585.35 287.30,586.45"/>
<text x="315.48" y="588.50" font-size="7.10" fill="#2b2b2b" textLength="8.43" lengthAdjust="spacingAndGlyphs" stroke="#2b2b2b" stroke-width="0.12">46</text>
<line class="d" x1="314.60" y1="589.60" x2="324.20" y2="589.60"/>
<line class="d" x1="315.00" y1="589.60" x2="315.00" y2="615.40"/>
<text transform="translate(193.00 615.20) rotate(-90)" x="-0.47" y="0" font-size="7.25" fill="#2b2b2b" textLength="12.66" lengthAdjust="spacingAndGlyphs" stroke="#2b2b2b" stroke-width="0.12">134</text>
<text transform="translate(200.60 624.40) rotate(-90)" x="-0.26" y="0" font-size="7.25" fill="#2b2b2b" textLength="9.19" lengthAdjust="spacingAndGlyphs" stroke="#2b2b2b" stroke-width="0.12">55</text>
<line class="d" x1="194.00" y1="591.00" x2="194.00" y2="627.60"/>
<polygon class="a" points="194.00,591.00 193.45,593.20 194.55,593.20"/>
<polygon class="a" points="194.00,627.60 193.45,625.40 194.55,625.40"/>
<line class="d" x1="201.60" y1="612.60" x2="201.60" y2="627.60"/>
<polygon class="a" points="201.60,612.60 201.05,614.80 202.15,614.80"/>
<polygon class="a" points="201.60,627.60 201.05,625.40 202.15,625.40"/>
<line class="d" x1="193.20" y1="591.00" x2="208.00" y2="591.00"/>
<line class="d" x1="200.80" y1="612.60" x2="207.00" y2="612.60"/>
<line class="d" x1="193.20" y1="627.60" x2="207.00" y2="627.60"/>
<text x="208.97" y="636.16" font-size="6.81" fill="#222" font-weight="700" textLength="43.74" lengthAdjust="spacingAndGlyphs">滑台機械極限</text>
<text x="252.84" y="636.35" font-size="7.75" fill="#222" textLength="26.76" lengthAdjust="spacingAndGlyphs" stroke="#222" stroke-width="0.2">174.5±1</text>
<text x="208.91" y="642.70" font-size="6.45" fill="#8e8e8e" textLength="68.64" lengthAdjust="spacingAndGlyphs">Mechanical limit:174.5±1</text>
<line class="d" x1="202.40" y1="644.20" x2="279.40" y2="644.20"/>
<polygon class="a" points="207.00,644.20 204.80,643.65 204.80,644.75"/>
<polygon class="a" points="254.60,644.20 252.40,643.65 252.40,644.75"/>
<text x="212.97" y="651.86" font-size="6.81" fill="#222" font-weight="700" textLength="29.14" lengthAdjust="spacingAndGlyphs">滑台原點</text>
<text x="242.34" y="652.05" font-size="7.75" fill="#222" textLength="19.17" lengthAdjust="spacingAndGlyphs" stroke="#222" stroke-width="0.2">277.5</text>
<text x="213.11" y="657.80" font-size="6.45" fill="#8e8e8e" textLength="64.94" lengthAdjust="spacingAndGlyphs">Origin of actuator:277.5</text>
<line class="d" x1="207.00" y1="659.70" x2="282.60" y2="659.70"/>
<polygon class="a" points="207.00,659.70 209.20,659.15 209.20,660.25"/>
<polygon class="a" points="282.60,659.70 280.40,659.15 280.40,660.25"/>
<text x="286.27" y="657.53" font-size="7.02" fill="#222" font-weight="700" textLength="29.66" lengthAdjust="spacingAndGlyphs">有效行程</text>
<text x="316.41" y="658.10" font-size="6.45" fill="#8e8e8e" textLength="17.64" lengthAdjust="spacingAndGlyphs">Stroke</text>
<line class="d" x1="282.60" y1="659.70" x2="336.70" y2="659.70"/>
<polygon class="a" points="282.60,659.70 284.80,659.15 284.80,660.25"/>
<polygon class="a" points="336.70,659.70 334.50,659.15 334.50,660.25"/>
<text x="359.64" y="658.90" font-size="7.10" fill="#2b2b2b" textLength="18.88" lengthAdjust="spacingAndGlyphs" stroke="#2b2b2b" stroke-width="0.12">211.5</text>
<line class="d" x1="336.70" y1="659.70" x2="393.50" y2="659.70"/>
<polygon class="a" points="336.70,659.70 338.90,659.15 338.90,660.25"/>
<polygon class="a" points="393.50,659.70 391.30,659.15 391.30,660.25"/>
<text x="298.32" y="667.70" font-size="6.81" fill="#2b2b2b" textLength="3.44" lengthAdjust="spacingAndGlyphs" stroke="#2b2b2b" stroke-width="0.12">L</text>
<line class="d" x1="207.00" y1="669.60" x2="393.50" y2="669.60"/>
<polygon class="a" points="207.00,669.60 209.20,669.05 209.20,670.15"/>
<polygon class="a" points="393.50,669.60 391.30,669.05 391.30,670.15"/>
<text x="298.38" y="624.80" font-size="7.25" fill="#2b2b2b" textLength="31.41" lengthAdjust="spacingAndGlyphs" stroke="#2b2b2b" stroke-width="0.12">8-M5<tspan style="font-size:78%" text-decoration="overline">▼</tspan>12</text>
<line class="d" x1="297.60" y1="626.20" x2="331.00" y2="626.20"/>
<line class="d" x1="297.60" y1="626.20" x2="284.60" y2="605.60"/>
<text x="297.28" y="634.10" font-size="7.10" fill="#2b2b2b" textLength="36.50" lengthAdjust="spacingAndGlyphs" stroke="#2b2b2b" stroke-width="0.12">2-Ø5<tspan style="font-size:78%" text-decoration="overline">▼</tspan>7 H7</text>
<line class="d" x1="295.40" y1="635.30" x2="335.00" y2="635.30"/>
<line class="d" x1="295.40" y1="635.30" x2="279.60" y2="605.60"/>
<text transform="translate(402.40 607.00) rotate(-90)" x="-0.38" y="0" font-size="7.25" fill="#2b2b2b" textLength="9.12" lengthAdjust="spacingAndGlyphs" stroke="#2b2b2b" stroke-width="0.12">65</text>
<line class="d" x1="404.50" y1="595.40" x2="404.50" y2="613.20"/>
<polygon class="a" points="404.50,595.40 403.95,597.60 405.05,597.60"/>
<polygon class="a" points="404.50,613.20 403.95,611.00 405.05,611.00"/>
<line class="d" x1="394.60" y1="595.40" x2="405.60" y2="595.40"/>
<line class="d" x1="394.60" y1="613.20" x2="405.60" y2="613.20"/>
<text x="365.77" y="631.26" font-size="6.81" fill="#222" font-weight="700" textLength="43.54" lengthAdjust="spacingAndGlyphs">滑台機械極限</text>
<text x="409.44" y="631.45" font-size="7.75" fill="#222" textLength="26.46" lengthAdjust="spacingAndGlyphs" stroke="#222" stroke-width="0.2">108.5±1</text>
<text x="365.91" y="637.80" font-size="6.45" fill="#8e8e8e" textLength="68.54" lengthAdjust="spacingAndGlyphs">Mechanical limit:108.5±1</text>
<line class="d" x1="359.00" y1="639.60" x2="436.20" y2="639.60"/>
<polygon class="a" points="364.80,639.60 362.60,639.05 362.60,640.15"/>
<polygon class="a" points="393.50,639.60 395.70,639.05 395.70,640.15"/>
<text x="155.82" y="697.70" font-size="7.10" fill="#2b2b2b" textLength="9.12" lengthAdjust="spacingAndGlyphs" stroke="#2b2b2b" stroke-width="0.12">63</text>
<line class="d" x1="151.50" y1="699.20" x2="169.60" y2="699.20"/>
<polygon class="a" points="151.50,699.20 153.70,698.65 153.70,699.75"/>
<polygon class="a" points="169.60,699.20 167.40,698.65 167.40,699.75"/>
<line class="d" x1="151.50" y1="698.40" x2="151.50" y2="706.00"/>
<line class="d" x1="169.60" y1="698.40" x2="169.60" y2="706.00"/>
<rect class="of" x="170.83" y="708.32" width="12.97" height="19.27" rx="0.6"/>
<path class="o" d="M183.80,711.42 L184.46,711.42 L184.46,713.30 L183.80,713.30"/>
<path class="o" d="M183.80,722.70 L184.46,722.70 L184.46,724.58 L183.80,724.58"/>
<rect class="of" x="151.28" y="704.37" width="19.55" height="23.22" rx="0.5"/>
<rect class="of" x="152.78" y="705.40" width="15.60" height="3.95" rx="0.5" style="fill:#f2f2f2;stroke-width:0.7"/>
<rect class="k" x="154.28" y="706.16" width="12.60" height="2.26" style="fill:#666"/>
<line class="ot" x1="170.83" y1="709.35" x2="151.28" y2="709.35"/>
<line class="ot" x1="161.05" y1="709.35" x2="161.05" y2="727.59"/>
<line class="ot" x1="158.98" y1="709.35" x2="158.98" y2="727.59"/>
<line class="o" x1="169.14" y1="711.23" x2="161.05" y2="711.23"/>
<line class="o" x1="169.14" y1="725.14" x2="161.05" y2="725.14"/>
<rect class="ot" x="161.05" y="712.36" width="7.52" height="2.63" style="fill:#f0f0f0"/>
<rect class="ot" x="161.05" y="721.20" width="7.52" height="2.63" style="fill:#f0f0f0"/>
<rect class="ot" x="153.16" y="710.86" width="5.83" height="14.29"/>
<rect class="of" x="147.33" y="709.26" width="3.95" height="17.95"/>
<circle class="o" cx="149.58" cy="721.38" r="1.32"/>
<circle class="k" cx="149.58" cy="721.38" r="0.47"/>
<rect class="of" x="120.44" y="709.54" width="26.88" height="16.45" rx="0.5"/>
<line class="ot" x1="147.33" y1="711.61" x2="127.02" y2="711.61"/>
<line class="ot" x1="147.33" y1="723.92" x2="127.02" y2="723.92"/>
<line class="o" x1="127.02" y1="709.54" x2="127.02" y2="725.99"/>
<rect class="ot" x="129.09" y="714.80" width="5.08" height="8.08" rx="1.2" style="fill:#f1f1f1"/>
<rect class="ot" x="130.78" y="717.06" width="1.69" height="4.14" rx="0.8"/>
<rect class="ot" x="121.38" y="711.98" width="4.70" height="5.45" rx="1" style="fill:#f1f1f1"/>
<rect class="ot" x="121.38" y="719.32" width="4.70" height="4.70" rx="1" style="fill:#f1f1f1"/>
<circle class="k" cx="126.46" cy="710.86" r="0.66"/>
<circle class="k" cx="126.46" cy="724.77" r="0.66"/>
<line class="c" x1="149.96" y1="718.00" x2="117.62" y2="718.00" style="stroke-dasharray:4 1.4"/>
<text transform="translate(189.80 720.80) rotate(-90)" x="-0.25" y="0" font-size="7.25" fill="#2b2b2b" textLength="8.77" lengthAdjust="spacingAndGlyphs" stroke="#2b2b2b" stroke-width="0.12">85</text>
<line class="d" x1="190.70" y1="705.30" x2="190.70" y2="728.10"/>
<polygon class="a" points="190.70,705.30 190.15,707.50 191.25,707.50"/>
<polygon class="a" points="190.70,728.10 190.15,725.90 191.25,725.90"/>
<line class="d" x1="170.00" y1="705.30" x2="191.60" y2="705.30"/>
<line class="d" x1="184.20" y1="728.10" x2="191.60" y2="728.10"/>
<rect class="of" x="207.00" y="708.50" width="42.40" height="19.30" rx="0.8"/>
<circle class="ot" cx="227.60" cy="712.20" r="1.25" style="fill:#9a9a9a"/>
<circle class="ot" cx="227.60" cy="724.40" r="1.25" style="fill:#9a9a9a"/>
<rect class="of" x="249.40" y="710.30" width="144.60" height="17.50" style="fill:#ececed"/>
<line class="o" x1="249.90" y1="715.79" x2="369.80" y2="715.79" style="stroke:#c3c4c6;stroke-width:1.5"/>
<line class="o" x1="249.90" y1="720.91" x2="369.80" y2="720.91" style="stroke:#c3c4c6;stroke-width:1.5"/>
<line class="o" x1="249.90" y1="723.89" x2="369.80" y2="723.89" style="stroke:#c9cacc;stroke-width:0.9"/>
<line class="o" x1="249.90" y1="718.31" x2="369.80" y2="718.31" style="stroke:#d0d1d2;stroke-width:0.5"/>
<line class="dl" x1="249.40" y1="711.79" x2="369.80" y2="711.79"/>
<line class="dl" x1="249.40" y1="726.40" x2="369.80" y2="726.40"/>
<path class="of" transform="translate(0.00 0.00)" d="M255.3,710.3 V705.6999999999999 Q255.3,704.3 256.7,704.3 H307.40000000000003 Q308.8,704.3 308.8,705.6999999999999 V710.3 Z" style="fill:#efeff0"/>
<line class="o" x1="255.30" y1="708.80" x2="308.80" y2="708.80" style="stroke:#777;stroke-width:0.9"/>
<line class="o" x1="255.30" y1="710.30" x2="308.80" y2="710.30" style="stroke-width:0.9"/>
<rect class="of" x="369.80" y="710.30" width="24.20" height="17.50"/>
<rect class="ot" x="370.30" y="713.28" width="2.90" height="2.60" rx="0.8" style="fill:#f4f4f4"/>
<rect class="ot" x="370.30" y="717.75" width="2.90" height="2.60" rx="0.8" style="fill:#f4f4f4"/>
<rect class="ot" x="370.30" y="721.85" width="2.90" height="2.60" rx="0.8" style="fill:#f4f4f4"/>
<circle class="k" cx="391.40" cy="719.45" r="0.45"/>
<path class="ot" transform="translate(0.00 0.00)" d="M275.6,710.3 H289.4 V712.9 Q289.4,714.0999999999999 288.2,714.0999999999999 H284.4 V718.3 H280.6 V714.0999999999999 H276.8 Q275.6,714.0999999999999 275.6,712.9 Z" style="fill:#fbfbfb"/>
<circle class="k" cx="282.50" cy="707.90" r="0.50"/>
<rect class="of" x="276.50" y="706.60" width="3.80" height="3.50" rx="0.5" style="fill:#a9aaac"/>
<rect class="of" x="278.10" y="714.40" width="1.80" height="5.59" rx="0.8" style="fill:#fff"/>
<line class="o" x1="279.00" y1="719.98" x2="279.00" y2="728.40" style="stroke-width:1.1"/>
<line class="d" x1="275.80" y1="718.86" x2="282.20" y2="718.86"/>
<polygon class="a" points="278.10,718.86 276.50,718.41 276.50,719.31"/>
<polygon class="a" points="279.90,718.86 281.50,718.41 281.50,719.31"/>
<rect class="of" x="284.70" y="706.60" width="3.80" height="3.50" rx="0.5" style="fill:#a9aaac"/>
<rect class="of" x="285.10" y="714.40" width="1.80" height="5.59" rx="0.8" style="fill:#fff"/>
<line class="o" x1="286.00" y1="719.98" x2="286.00" y2="728.40" style="stroke-width:1.1"/>
<line class="d" x1="282.80" y1="718.86" x2="289.20" y2="718.86"/>
<polygon class="a" points="285.10,718.86 283.50,718.41 283.50,719.31"/>
<polygon class="a" points="286.90,718.86 288.50,718.41 288.50,719.31"/>
<rect class="of" x="336.30" y="714.40" width="1.80" height="5.59" rx="0.8" style="fill:#fff"/>
<line class="o" x1="337.20" y1="719.98" x2="337.20" y2="728.40" style="stroke-width:1.1"/>
<line class="d" x1="334.00" y1="718.86" x2="340.40" y2="718.86"/>
<polygon class="a" points="336.30,718.86 334.70,718.41 334.70,719.31"/>
<polygon class="a" points="338.10,718.86 339.70,718.41 339.70,719.31"/>
<text x="251.53" y="693.30" font-size="6.81" fill="#2b2b2b" textLength="14.57" lengthAdjust="spacingAndGlyphs" stroke="#2b2b2b" stroke-width="0.12">12.5</text>
<line class="d" x1="251.60" y1="694.40" x2="266.20" y2="694.40"/>
<line class="d" x1="252.00" y1="694.40" x2="252.00" y2="710.00"/>
<text x="259.90" y="702.30" font-size="6.81" fill="#E6384D" font-weight="700" textLength="4.83" lengthAdjust="spacingAndGlyphs">A</text>
<text x="259.90" y="734.60" font-size="6.81" fill="#E6384D" font-weight="700" textLength="4.83" lengthAdjust="spacingAndGlyphs">A</text>
<line class="c" x1="270.40" y1="698.00" x2="270.40" y2="734.60" style="stroke:#3a3a3a;stroke-width:0.6;stroke-dasharray:7 1 1.2 1"/>
<line class="d" x1="265.20" y1="700.20" x2="270.40" y2="700.20"/>
<polygon class="a" points="265.20,700.20 267.00,699.70 267.00,700.70"/>
<line class="d" x1="265.20" y1="732.40" x2="270.40" y2="732.40"/>
<polygon class="a" points="265.20,732.40 267.00,731.90 267.00,732.90"/>
<text x="277.88" y="697.40" font-size="6.96" fill="#2b2b2b" textLength="8.72" lengthAdjust="spacingAndGlyphs" stroke="#2b2b2b" stroke-width="0.12">40</text>
<line class="d" x1="276.00" y1="698.50" x2="288.00" y2="698.50"/>
<polygon class="a" points="276.00,698.50 278.20,697.95 278.20,699.05"/>
<polygon class="a" points="288.00,698.50 285.80,697.95 285.80,699.05"/>
<line class="d" x1="276.00" y1="697.80" x2="276.00" y2="710.00"/>
<line class="d" x1="288.00" y1="697.80" x2="288.00" y2="710.00"/>
<text x="293.49" y="685.50" font-size="6.81" fill="#2b2b2b" textLength="30.48" lengthAdjust="spacingAndGlyphs" stroke="#2b2b2b" stroke-width="0.12">4-M5<tspan style="font-size:78%" text-decoration="overline">▼</tspan>10</text>
<text x="293.37" y="693.37" font-size="6.71" fill="#222" font-weight="700" textLength="58.74" lengthAdjust="spacingAndGlyphs">對面相同位置兩孔</text>
<text x="293.31" y="699.70" font-size="6.30" fill="#8e8e8e" textLength="125.25" lengthAdjust="spacingAndGlyphs">2 holes on the same position at opposite side.</text>
<line class="d" x1="292.00" y1="701.60" x2="420.60" y2="701.60"/>
<line class="d" x1="292.00" y1="701.60" x2="286.40" y2="709.60"/>
<rect class="of" x="429.47" y="708.72" width="14.10" height="19.27" rx="0.6"/>
<path class="o" d="M429.47,711.82 L428.81,711.82 L428.81,713.70 L429.47,713.70"/>
<path class="o" d="M429.47,723.10 L428.81,723.10 L428.81,724.98 L429.47,724.98"/>
<rect class="of" x="443.57" y="704.77" width="19.55" height="23.22" rx="0.5"/>
<rect class="of" x="446.02" y="705.80" width="15.60" height="3.95" rx="0.5" style="fill:#f2f2f2;stroke-width:0.7"/>
<rect class="k" x="447.52" y="706.56" width="12.60" height="2.26" style="fill:#666"/>
<line class="ot" x1="443.57" y1="709.75" x2="463.12" y2="709.75"/>
<line class="o" x1="453.54" y1="709.75" x2="453.54" y2="727.99"/>
<circle class="k" cx="447.80" cy="712.01" r="0.85"/>
<circle class="k" cx="459.83" cy="712.01" r="0.85"/>
<circle class="k" cx="447.24" cy="719.53" r="0.85"/>
<circle class="k" cx="460.30" cy="719.53" r="0.85"/>
<circle class="k" cx="445.83" cy="725.36" r="0.85"/>
<circle class="k" cx="461.24" cy="725.36" r="0.85"/>
<rect class="ot" x="460.87" y="714.26" width="2.26" height="9.40" style="fill:#f4f4f4"/>
<rect class="k" x="460.30" y="726.48" width="4.70" height="1.13"/>
<rect class="of" x="463.12" y="709.66" width="3.95" height="17.95"/>
<circle class="o" cx="464.82" cy="721.78" r="1.32"/>
<circle class="k" cx="464.82" cy="721.78" r="0.47"/>
<rect class="of" x="467.07" y="709.94" width="36.66" height="16.45" rx="0.5"/>
<line class="ot" x1="467.07" y1="712.01" x2="497.15" y2="712.01"/>
<line class="ot" x1="467.07" y1="724.32" x2="497.15" y2="724.32"/>
<line class="o" x1="497.15" y1="709.94" x2="497.15" y2="726.39"/>
<rect class="ot" x="490.01" y="715.20" width="5.08" height="8.08" rx="1.2" style="fill:#f1f1f1"/>
<rect class="ot" x="491.70" y="717.46" width="1.69" height="4.14" rx="0.8"/>
<rect class="ot" x="498.09" y="712.38" width="4.70" height="5.45" rx="1" style="fill:#f1f1f1"/>
<rect class="ot" x="498.09" y="719.72" width="4.70" height="4.70" rx="1" style="fill:#f1f1f1"/>
<circle class="k" cx="497.72" cy="711.26" r="0.66"/>
<circle class="k" cx="497.72" cy="725.17" r="0.66"/>
<line class="c" x1="464.44" y1="718.40" x2="506.55" y2="718.40" style="stroke-dasharray:4 1.4"/>
<line class="d" x1="447.20" y1="719.60" x2="453.60" y2="731.60"/>
<line class="d" x1="460.30" y1="719.60" x2="453.60" y2="731.60"/>
<text x="430.88" y="738.64" font-size="6.92" fill="#222" font-weight="700" textLength="59.23" lengthAdjust="spacingAndGlyphs">皮帶張力調整螺絲</text>
<text x="423.92" y="745.00" font-size="6.59" fill="#8e8e8e" textLength="77.84" lengthAdjust="spacingAndGlyphs">Belt tension adjusting screw.</text>
<rect class="th" x="69.80" y="402.80" width="482.60" height="14.90"/>
<rect class="cream" x="69.80" y="417.70" width="38.00" height="16.80"/>
<line class="tb" x1="69.80" y1="402.50" x2="552.40" y2="402.50"/>
<line class="tw" x1="69.80" y1="418.05" x2="552.40" y2="418.05"/>
<line class="tv" x1="107.80" y1="418.60" x2="552.40" y2="418.60"/>
<line class="tm" x1="69.80" y1="426.60" x2="552.40" y2="426.60"/>
<line class="tb2" x1="69.80" y1="434.50" x2="552.40" y2="434.50"/>
<line class="thv" x1="107.80" y1="402.80" x2="107.80" y2="417.70"/>
<line class="tv" x1="107.80" y1="418.60" x2="107.80" y2="434.10"/>
<line class="thv" x1="125.58" y1="402.80" x2="125.58" y2="417.70"/>
<line class="tv" x1="125.58" y1="418.60" x2="125.58" y2="434.10"/>
<line class="thv" x1="143.37" y1="402.80" x2="143.37" y2="417.70"/>
<line class="tv" x1="143.37" y1="418.60" x2="143.37" y2="434.10"/>
<line class="thv" x1="161.15" y1="402.80" x2="161.15" y2="417.70"/>
<line class="tv" x1="161.15" y1="418.60" x2="161.15" y2="434.10"/>
<line class="thv" x1="178.94" y1="402.80" x2="178.94" y2="417.70"/>
<line class="tv" x1="178.94" y1="418.60" x2="178.94" y2="434.10"/>
<line class="thv" x1="196.72" y1="402.80" x2="196.72" y2="417.70"/>
<line class="tv" x1="196.72" y1="418.60" x2="196.72" y2="434.10"/>
<line class="thv" x1="214.50" y1="402.80" x2="214.50" y2="417.70"/>
<line class="tv" x1="214.50" y1="418.60" x2="214.50" y2="434.10"/>
<line class="thv" x1="232.29" y1="402.80" x2="232.29" y2="417.70"/>
<line class="tv" x1="232.29" y1="418.60" x2="232.29" y2="434.10"/>
<line class="thv" x1="250.07" y1="402.80" x2="250.07" y2="417.70"/>
<line class="tv" x1="250.07" y1="418.60" x2="250.07" y2="434.10"/>
<line class="thv" x1="267.86" y1="402.80" x2="267.86" y2="417.70"/>
<line class="tv" x1="267.86" y1="418.60" x2="267.86" y2="434.10"/>
<line class="thv" x1="285.64" y1="402.80" x2="285.64" y2="417.70"/>
<line class="tv" x1="285.64" y1="418.60" x2="285.64" y2="434.10"/>
<line class="thv" x1="303.42" y1="402.80" x2="303.42" y2="417.70"/>
<line class="tv" x1="303.42" y1="418.60" x2="303.42" y2="434.10"/>
<line class="thv" x1="321.21" y1="402.80" x2="321.21" y2="417.70"/>
<line class="tv" x1="321.21" y1="418.60" x2="321.21" y2="434.10"/>
<line class="thv" x1="338.99" y1="402.80" x2="338.99" y2="417.70"/>
<line class="tv" x1="338.99" y1="418.60" x2="338.99" y2="434.10"/>
<line class="thv" x1="356.78" y1="402.80" x2="356.78" y2="417.70"/>
<line class="tv" x1="356.78" y1="418.60" x2="356.78" y2="434.10"/>
<line class="thv" x1="374.56" y1="402.80" x2="374.56" y2="417.70"/>
<line class="tv" x1="374.56" y1="418.60" x2="374.56" y2="434.10"/>
<line class="thv" x1="392.34" y1="402.80" x2="392.34" y2="417.70"/>
<line class="tv" x1="392.34" y1="418.60" x2="392.34" y2="434.10"/>
<line class="thv" x1="410.13" y1="402.80" x2="410.13" y2="417.70"/>
<line class="tv" x1="410.13" y1="418.60" x2="410.13" y2="434.10"/>
<line class="thv" x1="427.91" y1="402.80" x2="427.91" y2="417.70"/>
<line class="tv" x1="427.91" y1="418.60" x2="427.91" y2="434.10"/>
<line class="thv" x1="445.70" y1="402.80" x2="445.70" y2="417.70"/>
<line class="tv" x1="445.70" y1="418.60" x2="445.70" y2="434.10"/>
<line class="thv" x1="463.48" y1="402.80" x2="463.48" y2="417.70"/>
<line class="tv" x1="463.48" y1="418.60" x2="463.48" y2="434.10"/>
<line class="thv" x1="481.26" y1="402.80" x2="481.26" y2="417.70"/>
<line class="tv" x1="481.26" y1="418.60" x2="481.26" y2="434.10"/>
<line class="thv" x1="499.05" y1="402.80" x2="499.05" y2="417.70"/>
<line class="tv" x1="499.05" y1="418.60" x2="499.05" y2="434.10"/>
<line class="thv" x1="516.83" y1="402.80" x2="516.83" y2="417.70"/>
<line class="tv" x1="516.83" y1="418.60" x2="516.83" y2="434.10"/>
<line class="thv" x1="534.62" y1="402.80" x2="534.62" y2="417.70"/>
<line class="tv" x1="534.62" y1="418.60" x2="534.62" y2="434.10"/>
<text x="74.48" y="409.95" font-size="6.93" fill="#fff" textLength="28.65" lengthAdjust="spacingAndGlyphs">有效行程</text>
<text x="80.21" y="415.90" font-size="6.67" fill="#fff" textLength="17.43" lengthAdjust="spacingAndGlyphs">Stroke</text>
<text x="86.78" y="424.30" font-size="6.38" fill="#2a2a2a" textLength="3.68" lengthAdjust="spacingAndGlyphs">L</text>
<text x="84.75" y="432.90" font-size="6.38" fill="#2a2a2a" textLength="8.39" lengthAdjust="spacingAndGlyphs">KG</text>
<text x="111.49" y="412.80" font-size="6.59" fill="#fff" textLength="10.17" lengthAdjust="spacingAndGlyphs">100</text>
<text x="111.68" y="424.25" font-size="6.23" fill="#2a2a2a" textLength="10.07" lengthAdjust="spacingAndGlyphs">589</text>
<text x="110.74" y="432.60" font-size="6.23" fill="#2a2a2a" textLength="11.86" lengthAdjust="spacingAndGlyphs">7.87</text>
<text x="129.37" y="412.80" font-size="6.59" fill="#fff" textLength="10.07" lengthAdjust="spacingAndGlyphs">200</text>
<text x="129.37" y="424.25" font-size="6.23" fill="#2a2a2a" textLength="10.17" lengthAdjust="spacingAndGlyphs">689</text>
<text x="128.63" y="432.60" font-size="6.23" fill="#2a2a2a" textLength="11.76" lengthAdjust="spacingAndGlyphs">8.43</text>
<text x="147.25" y="412.80" font-size="6.59" fill="#fff" textLength="9.98" lengthAdjust="spacingAndGlyphs">300</text>
<text x="147.15" y="424.25" font-size="6.23" fill="#2a2a2a" textLength="10.17" lengthAdjust="spacingAndGlyphs">789</text>
<text x="146.41" y="432.60" font-size="6.23" fill="#2a2a2a" textLength="11.76" lengthAdjust="spacingAndGlyphs">8.99</text>
<text x="165.13" y="412.80" font-size="6.59" fill="#fff" textLength="9.88" lengthAdjust="spacingAndGlyphs">400</text>
<text x="165.03" y="424.25" font-size="6.23" fill="#2a2a2a" textLength="10.07" lengthAdjust="spacingAndGlyphs">889</text>
<text x="164.10" y="432.60" font-size="6.23" fill="#2a2a2a" textLength="11.86" lengthAdjust="spacingAndGlyphs">9.55</text>
<text x="182.82" y="412.80" font-size="6.59" fill="#fff" textLength="9.98" lengthAdjust="spacingAndGlyphs">500</text>
<text x="182.72" y="424.25" font-size="6.23" fill="#2a2a2a" textLength="10.17" lengthAdjust="spacingAndGlyphs">989</text>
<text x="180.09" y="432.60" font-size="6.23" fill="#2a2a2a" textLength="15.34" lengthAdjust="spacingAndGlyphs">10.11</text>
<text x="200.51" y="412.80" font-size="6.59" fill="#fff" textLength="10.07" lengthAdjust="spacingAndGlyphs">600</text>
<text x="198.73" y="424.25" font-size="6.23" fill="#2a2a2a" textLength="13.64" lengthAdjust="spacingAndGlyphs">1089</text>
<text x="197.89" y="432.60" font-size="6.23" fill="#2a2a2a" textLength="15.32" lengthAdjust="spacingAndGlyphs">10.67</text>
<text x="218.29" y="412.80" font-size="6.59" fill="#fff" textLength="10.07" lengthAdjust="spacingAndGlyphs">700</text>
<text x="216.50" y="424.25" font-size="6.23" fill="#2a2a2a" textLength="13.66" lengthAdjust="spacingAndGlyphs">1189</text>
<text x="215.66" y="432.60" font-size="6.23" fill="#2a2a2a" textLength="15.34" lengthAdjust="spacingAndGlyphs">11.23</text>
<text x="236.17" y="412.80" font-size="6.59" fill="#fff" textLength="9.98" lengthAdjust="spacingAndGlyphs">800</text>
<text x="234.29" y="424.25" font-size="6.23" fill="#2a2a2a" textLength="13.64" lengthAdjust="spacingAndGlyphs">1289</text>
<text x="233.44" y="432.60" font-size="6.23" fill="#2a2a2a" textLength="15.34" lengthAdjust="spacingAndGlyphs">11.79</text>
<text x="253.86" y="412.80" font-size="6.59" fill="#fff" textLength="10.07" lengthAdjust="spacingAndGlyphs">900</text>
<text x="252.08" y="424.25" font-size="6.23" fill="#2a2a2a" textLength="13.64" lengthAdjust="spacingAndGlyphs">1389</text>
<text x="251.24" y="432.60" font-size="6.23" fill="#2a2a2a" textLength="15.32" lengthAdjust="spacingAndGlyphs">12.35</text>
<text x="269.87" y="412.80" font-size="6.59" fill="#fff" textLength="13.54" lengthAdjust="spacingAndGlyphs">1000</text>
<text x="269.86" y="424.25" font-size="6.23" fill="#2a2a2a" textLength="13.64" lengthAdjust="spacingAndGlyphs">1489</text>
<text x="269.02" y="432.60" font-size="6.23" fill="#2a2a2a" textLength="15.32" lengthAdjust="spacingAndGlyphs">12.91</text>
<text x="287.64" y="412.80" font-size="6.59" fill="#fff" textLength="13.56" lengthAdjust="spacingAndGlyphs">1100</text>
<text x="287.65" y="424.25" font-size="6.23" fill="#2a2a2a" textLength="13.64" lengthAdjust="spacingAndGlyphs">1589</text>
<text x="286.81" y="432.60" font-size="6.23" fill="#2a2a2a" textLength="15.32" lengthAdjust="spacingAndGlyphs">13.47</text>
<text x="305.43" y="412.80" font-size="6.59" fill="#fff" textLength="13.54" lengthAdjust="spacingAndGlyphs">1200</text>
<text x="305.43" y="424.25" font-size="6.23" fill="#2a2a2a" textLength="13.64" lengthAdjust="spacingAndGlyphs">1689</text>
<text x="304.59" y="432.60" font-size="6.23" fill="#2a2a2a" textLength="15.32" lengthAdjust="spacingAndGlyphs">14.03</text>
<text x="323.22" y="412.80" font-size="6.59" fill="#fff" textLength="13.54" lengthAdjust="spacingAndGlyphs">1300</text>
<text x="323.21" y="424.25" font-size="6.23" fill="#2a2a2a" textLength="13.64" lengthAdjust="spacingAndGlyphs">1789</text>
<text x="322.37" y="432.60" font-size="6.23" fill="#2a2a2a" textLength="15.32" lengthAdjust="spacingAndGlyphs">14.59</text>
<text x="341.00" y="412.80" font-size="6.59" fill="#fff" textLength="13.54" lengthAdjust="spacingAndGlyphs">1400</text>
<text x="341.00" y="424.25" font-size="6.23" fill="#2a2a2a" textLength="13.64" lengthAdjust="spacingAndGlyphs">1889</text>
<text x="340.16" y="432.60" font-size="6.23" fill="#2a2a2a" textLength="15.32" lengthAdjust="spacingAndGlyphs">15.15</text>
<text x="358.79" y="412.80" font-size="6.59" fill="#fff" textLength="13.54" lengthAdjust="spacingAndGlyphs">1500</text>
<text x="358.78" y="424.25" font-size="6.23" fill="#2a2a2a" textLength="13.64" lengthAdjust="spacingAndGlyphs">1989</text>
<text x="357.94" y="432.60" font-size="6.23" fill="#2a2a2a" textLength="15.32" lengthAdjust="spacingAndGlyphs">15.71</text>
<text x="376.57" y="412.80" font-size="6.59" fill="#fff" textLength="13.54" lengthAdjust="spacingAndGlyphs">1600</text>
<text x="376.66" y="424.25" font-size="6.23" fill="#2a2a2a" textLength="13.54" lengthAdjust="spacingAndGlyphs">2089</text>
<text x="375.73" y="432.60" font-size="6.23" fill="#2a2a2a" textLength="15.32" lengthAdjust="spacingAndGlyphs">16.27</text>
<text x="394.35" y="412.80" font-size="6.59" fill="#fff" textLength="13.54" lengthAdjust="spacingAndGlyphs">1700</text>
<text x="394.45" y="424.25" font-size="6.23" fill="#2a2a2a" textLength="13.54" lengthAdjust="spacingAndGlyphs">2189</text>
<text x="393.51" y="432.60" font-size="6.23" fill="#2a2a2a" textLength="15.32" lengthAdjust="spacingAndGlyphs">16.83</text>
<text x="412.14" y="412.80" font-size="6.59" fill="#fff" textLength="13.54" lengthAdjust="spacingAndGlyphs">1800</text>
<text x="412.23" y="424.25" font-size="6.23" fill="#2a2a2a" textLength="13.54" lengthAdjust="spacingAndGlyphs">2289</text>
<text x="411.29" y="432.60" font-size="6.23" fill="#2a2a2a" textLength="15.32" lengthAdjust="spacingAndGlyphs">17.39</text>
<text x="429.92" y="412.80" font-size="6.59" fill="#fff" textLength="13.54" lengthAdjust="spacingAndGlyphs">1900</text>
<text x="430.02" y="424.25" font-size="6.23" fill="#2a2a2a" textLength="13.54" lengthAdjust="spacingAndGlyphs">2389</text>
<text x="429.08" y="432.60" font-size="6.23" fill="#2a2a2a" textLength="15.32" lengthAdjust="spacingAndGlyphs">17.95</text>
<text x="447.80" y="412.80" font-size="6.59" fill="#fff" textLength="13.44" lengthAdjust="spacingAndGlyphs">2000</text>
<text x="447.80" y="424.25" font-size="6.23" fill="#2a2a2a" textLength="13.54" lengthAdjust="spacingAndGlyphs">2489</text>
<text x="446.86" y="432.60" font-size="6.23" fill="#2a2a2a" textLength="15.32" lengthAdjust="spacingAndGlyphs">18.51</text>
<text x="465.59" y="412.80" font-size="6.59" fill="#fff" textLength="13.44" lengthAdjust="spacingAndGlyphs">2100</text>
<text x="465.58" y="424.25" font-size="6.23" fill="#2a2a2a" textLength="13.54" lengthAdjust="spacingAndGlyphs">2589</text>
<text x="464.65" y="432.60" font-size="6.23" fill="#2a2a2a" textLength="15.32" lengthAdjust="spacingAndGlyphs">19.07</text>
<text x="483.37" y="412.80" font-size="6.59" fill="#fff" textLength="13.44" lengthAdjust="spacingAndGlyphs">2200</text>
<text x="483.37" y="424.25" font-size="6.23" fill="#2a2a2a" textLength="13.54" lengthAdjust="spacingAndGlyphs">2689</text>
<text x="482.43" y="432.60" font-size="6.23" fill="#2a2a2a" textLength="15.32" lengthAdjust="spacingAndGlyphs">19.63</text>
<text x="501.15" y="412.80" font-size="6.59" fill="#fff" textLength="13.44" lengthAdjust="spacingAndGlyphs">2300</text>
<text x="501.15" y="424.25" font-size="6.23" fill="#2a2a2a" textLength="13.54" lengthAdjust="spacingAndGlyphs">2789</text>
<text x="500.31" y="432.60" font-size="6.23" fill="#2a2a2a" textLength="15.22" lengthAdjust="spacingAndGlyphs">20.19</text>
<text x="518.94" y="412.80" font-size="6.59" fill="#fff" textLength="13.44" lengthAdjust="spacingAndGlyphs">2400</text>
<text x="518.94" y="424.25" font-size="6.23" fill="#2a2a2a" textLength="13.54" lengthAdjust="spacingAndGlyphs">2889</text>
<text x="518.10" y="432.60" font-size="6.23" fill="#2a2a2a" textLength="15.22" lengthAdjust="spacingAndGlyphs">20.75</text>
<text x="536.72" y="412.80" font-size="6.59" fill="#fff" textLength="13.44" lengthAdjust="spacingAndGlyphs">2500</text>
<text x="536.72" y="424.25" font-size="6.23" fill="#2a2a2a" textLength="13.54" lengthAdjust="spacingAndGlyphs">2989</text>
<text x="535.88" y="432.60" font-size="6.23" fill="#2a2a2a" textLength="15.22" lengthAdjust="spacingAndGlyphs">21.31</text>
<rect class="th" x="69.50" y="438.50" width="482.90" height="14.90"/>
<rect class="cream" x="69.50" y="453.40" width="38.00" height="16.80"/>
<line class="tb" x1="69.50" y1="438.20" x2="552.40" y2="438.20"/>
<line class="tw" x1="69.50" y1="453.75" x2="552.40" y2="453.75"/>
<line class="tv" x1="107.50" y1="454.30" x2="552.40" y2="454.30"/>
<line class="tm" x1="69.50" y1="462.30" x2="552.40" y2="462.30"/>
<line class="tb2" x1="69.50" y1="470.20" x2="552.40" y2="470.20"/>
<line class="thv" x1="107.50" y1="438.50" x2="107.50" y2="453.40"/>
<line class="tv" x1="107.50" y1="454.30" x2="107.50" y2="469.80"/>
<line class="thv" x1="125.30" y1="438.50" x2="125.30" y2="453.40"/>
<line class="tv" x1="125.30" y1="454.30" x2="125.30" y2="469.80"/>
<line class="thv" x1="143.09" y1="438.50" x2="143.09" y2="453.40"/>
<line class="tv" x1="143.09" y1="454.30" x2="143.09" y2="469.80"/>
<line class="thv" x1="160.89" y1="438.50" x2="160.89" y2="453.40"/>
<line class="tv" x1="160.89" y1="454.30" x2="160.89" y2="469.80"/>
<line class="thv" x1="178.68" y1="438.50" x2="178.68" y2="453.40"/>
<line class="tv" x1="178.68" y1="454.30" x2="178.68" y2="469.80"/>
<line class="thv" x1="196.48" y1="438.50" x2="196.48" y2="453.40"/>
<line class="tv" x1="196.48" y1="454.30" x2="196.48" y2="469.80"/>
<line class="thv" x1="214.28" y1="438.50" x2="214.28" y2="453.40"/>
<line class="tv" x1="214.28" y1="454.30" x2="214.28" y2="469.80"/>
<line class="thv" x1="232.07" y1="438.50" x2="232.07" y2="453.40"/>
<line class="tv" x1="232.07" y1="454.30" x2="232.07" y2="469.80"/>
<line class="thv" x1="249.87" y1="438.50" x2="249.87" y2="453.40"/>
<line class="tv" x1="249.87" y1="454.30" x2="249.87" y2="469.80"/>
<line class="thv" x1="267.66" y1="438.50" x2="267.66" y2="453.40"/>
<line class="tv" x1="267.66" y1="454.30" x2="267.66" y2="469.80"/>
<line class="thv" x1="285.46" y1="438.50" x2="285.46" y2="453.40"/>
<line class="tv" x1="285.46" y1="454.30" x2="285.46" y2="469.80"/>
<line class="thv" x1="303.26" y1="438.50" x2="303.26" y2="453.40"/>
<line class="tv" x1="303.26" y1="454.30" x2="303.26" y2="469.80"/>
<line class="thv" x1="321.05" y1="438.50" x2="321.05" y2="453.40"/>
<line class="tv" x1="321.05" y1="454.30" x2="321.05" y2="469.80"/>
<line class="thv" x1="338.85" y1="438.50" x2="338.85" y2="453.40"/>
<line class="tv" x1="338.85" y1="454.30" x2="338.85" y2="469.80"/>
<line class="thv" x1="356.64" y1="438.50" x2="356.64" y2="453.40"/>
<line class="tv" x1="356.64" y1="454.30" x2="356.64" y2="469.80"/>
<line class="thv" x1="374.44" y1="438.50" x2="374.44" y2="453.40"/>
<line class="tv" x1="374.44" y1="454.30" x2="374.44" y2="469.80"/>
<line class="thv" x1="392.24" y1="438.50" x2="392.24" y2="453.40"/>
<line class="tv" x1="392.24" y1="454.30" x2="392.24" y2="469.80"/>
<line class="thv" x1="410.03" y1="438.50" x2="410.03" y2="453.40"/>
<line class="tv" x1="410.03" y1="454.30" x2="410.03" y2="469.80"/>
<line class="thv" x1="427.83" y1="438.50" x2="427.83" y2="453.40"/>
<line class="tv" x1="427.83" y1="454.30" x2="427.83" y2="469.80"/>
<line class="thv" x1="445.62" y1="438.50" x2="445.62" y2="453.40"/>
<line class="tv" x1="445.62" y1="454.30" x2="445.62" y2="469.80"/>
<line class="thv" x1="463.42" y1="438.50" x2="463.42" y2="453.40"/>
<line class="tv" x1="463.42" y1="454.30" x2="463.42" y2="469.80"/>
<line class="thv" x1="481.22" y1="438.50" x2="481.22" y2="453.40"/>
<line class="tv" x1="481.22" y1="454.30" x2="481.22" y2="469.80"/>
<line class="thv" x1="499.01" y1="438.50" x2="499.01" y2="453.40"/>
<line class="tv" x1="499.01" y1="454.30" x2="499.01" y2="469.80"/>
<line class="thv" x1="516.81" y1="438.50" x2="516.81" y2="453.40"/>
<line class="tv" x1="516.81" y1="454.30" x2="516.81" y2="469.80"/>
<line class="thv" x1="534.60" y1="438.50" x2="534.60" y2="453.40"/>
<line class="tv" x1="534.60" y1="454.30" x2="534.60" y2="469.80"/>
<text x="74.18" y="445.65" font-size="6.93" fill="#fff" textLength="28.65" lengthAdjust="spacingAndGlyphs">有效行程</text>
<text x="79.91" y="451.60" font-size="6.67" fill="#fff" textLength="17.43" lengthAdjust="spacingAndGlyphs">Stroke</text>
<text x="86.48" y="460.00" font-size="6.38" fill="#2a2a2a" textLength="3.68" lengthAdjust="spacingAndGlyphs">L</text>
<text x="84.45" y="468.60" font-size="6.38" fill="#2a2a2a" textLength="8.39" lengthAdjust="spacingAndGlyphs">KG</text>
<text x="109.61" y="448.50" font-size="6.59" fill="#fff" textLength="13.44" lengthAdjust="spacingAndGlyphs">2600</text>
<text x="109.71" y="459.95" font-size="6.23" fill="#2a2a2a" textLength="13.44" lengthAdjust="spacingAndGlyphs">3089</text>
<text x="108.77" y="468.30" font-size="6.23" fill="#2a2a2a" textLength="15.22" lengthAdjust="spacingAndGlyphs">21.87</text>
<text x="127.41" y="448.50" font-size="6.59" fill="#fff" textLength="13.44" lengthAdjust="spacingAndGlyphs">2700</text>
<text x="127.50" y="459.95" font-size="6.23" fill="#2a2a2a" textLength="13.44" lengthAdjust="spacingAndGlyphs">3189</text>
<text x="126.57" y="468.30" font-size="6.23" fill="#2a2a2a" textLength="15.22" lengthAdjust="spacingAndGlyphs">22.43</text>
<text x="145.20" y="448.50" font-size="6.59" fill="#fff" textLength="13.44" lengthAdjust="spacingAndGlyphs">2800</text>
<text x="145.30" y="459.95" font-size="6.23" fill="#2a2a2a" textLength="13.44" lengthAdjust="spacingAndGlyphs">3289</text>
<text x="144.36" y="468.30" font-size="6.23" fill="#2a2a2a" textLength="15.22" lengthAdjust="spacingAndGlyphs">22.99</text>
<text x="163.00" y="448.50" font-size="6.59" fill="#fff" textLength="13.44" lengthAdjust="spacingAndGlyphs">2900</text>
<text x="163.09" y="459.95" font-size="6.23" fill="#2a2a2a" textLength="13.44" lengthAdjust="spacingAndGlyphs">3389</text>
<text x="162.16" y="468.30" font-size="6.23" fill="#2a2a2a" textLength="15.22" lengthAdjust="spacingAndGlyphs">23.55</text>
<text x="180.89" y="448.50" font-size="6.59" fill="#fff" textLength="13.34" lengthAdjust="spacingAndGlyphs">3000</text>
<text x="180.89" y="459.95" font-size="6.23" fill="#2a2a2a" textLength="13.44" lengthAdjust="spacingAndGlyphs">3489</text>
<text x="179.94" y="468.30" font-size="6.23" fill="#2a2a2a" textLength="15.24" lengthAdjust="spacingAndGlyphs">24.11</text>
<text x="198.69" y="448.50" font-size="6.59" fill="#fff" textLength="13.34" lengthAdjust="spacingAndGlyphs">3100</text>
<text x="198.69" y="459.95" font-size="6.23" fill="#2a2a2a" textLength="13.44" lengthAdjust="spacingAndGlyphs">3589</text>
<text x="197.75" y="468.30" font-size="6.23" fill="#2a2a2a" textLength="15.22" lengthAdjust="spacingAndGlyphs">24.67</text>
<text x="216.48" y="448.50" font-size="6.59" fill="#fff" textLength="13.34" lengthAdjust="spacingAndGlyphs">3200</text>
<text x="216.48" y="459.95" font-size="6.23" fill="#2a2a2a" textLength="13.44" lengthAdjust="spacingAndGlyphs">3689</text>
<text x="215.55" y="468.30" font-size="6.23" fill="#2a2a2a" textLength="15.22" lengthAdjust="spacingAndGlyphs">25.23</text>
<text x="234.28" y="448.50" font-size="6.59" fill="#fff" textLength="13.34" lengthAdjust="spacingAndGlyphs">3300</text>
<text x="234.28" y="459.95" font-size="6.23" fill="#2a2a2a" textLength="13.44" lengthAdjust="spacingAndGlyphs">3789</text>
<text x="233.34" y="468.30" font-size="6.23" fill="#2a2a2a" textLength="15.22" lengthAdjust="spacingAndGlyphs">25.79</text>
<text x="252.08" y="448.50" font-size="6.59" fill="#fff" textLength="13.34" lengthAdjust="spacingAndGlyphs">3400</text>
<text x="252.07" y="459.95" font-size="6.23" fill="#2a2a2a" textLength="13.44" lengthAdjust="spacingAndGlyphs">3889</text>
<text x="251.14" y="468.30" font-size="6.23" fill="#2a2a2a" textLength="15.22" lengthAdjust="spacingAndGlyphs">26.35</text>
<text x="269.87" y="448.50" font-size="6.59" fill="#fff" textLength="13.34" lengthAdjust="spacingAndGlyphs">3500</text>
<text x="269.87" y="459.95" font-size="6.23" fill="#2a2a2a" textLength="13.44" lengthAdjust="spacingAndGlyphs">3989</text>
<text x="268.93" y="468.30" font-size="6.23" fill="#2a2a2a" textLength="15.22" lengthAdjust="spacingAndGlyphs">26.91</text>
<text x="287.67" y="448.50" font-size="6.59" fill="#fff" textLength="13.34" lengthAdjust="spacingAndGlyphs">3600</text>
<text x="287.76" y="459.95" font-size="6.23" fill="#2a2a2a" textLength="13.34" lengthAdjust="spacingAndGlyphs">4089</text>
<text x="286.73" y="468.30" font-size="6.23" fill="#2a2a2a" textLength="15.22" lengthAdjust="spacingAndGlyphs">27.47</text>
<text x="305.46" y="448.50" font-size="6.59" fill="#fff" textLength="13.34" lengthAdjust="spacingAndGlyphs">3700</text>
<text x="305.56" y="459.95" font-size="6.23" fill="#2a2a2a" textLength="13.34" lengthAdjust="spacingAndGlyphs">4189</text>
<text x="304.53" y="468.30" font-size="6.23" fill="#2a2a2a" textLength="15.22" lengthAdjust="spacingAndGlyphs">28.03</text>
<text x="323.26" y="448.50" font-size="6.59" fill="#fff" textLength="13.34" lengthAdjust="spacingAndGlyphs">3800</text>
<text x="323.35" y="459.95" font-size="6.23" fill="#2a2a2a" textLength="13.34" lengthAdjust="spacingAndGlyphs">4289</text>
<text x="322.32" y="468.30" font-size="6.23" fill="#2a2a2a" textLength="15.22" lengthAdjust="spacingAndGlyphs">28.59</text>
<text x="341.06" y="448.50" font-size="6.59" fill="#fff" textLength="13.34" lengthAdjust="spacingAndGlyphs">3900</text>
<text x="341.15" y="459.95" font-size="6.23" fill="#2a2a2a" textLength="13.34" lengthAdjust="spacingAndGlyphs">4389</text>
<text x="340.12" y="468.30" font-size="6.23" fill="#2a2a2a" textLength="15.22" lengthAdjust="spacingAndGlyphs">29.15</text>
<text x="358.95" y="448.50" font-size="6.59" fill="#fff" textLength="13.25" lengthAdjust="spacingAndGlyphs">4000</text>
<text x="358.95" y="459.95" font-size="6.23" fill="#2a2a2a" textLength="13.34" lengthAdjust="spacingAndGlyphs">4489</text>
<text x="357.91" y="468.30" font-size="6.23" fill="#2a2a2a" textLength="15.22" lengthAdjust="spacingAndGlyphs">29.71</text>
<text x="376.74" y="448.50" font-size="6.59" fill="#fff" textLength="13.25" lengthAdjust="spacingAndGlyphs">4100</text>
<text x="376.74" y="459.95" font-size="6.23" fill="#2a2a2a" textLength="13.34" lengthAdjust="spacingAndGlyphs">4589</text>
<text x="375.81" y="468.30" font-size="6.23" fill="#2a2a2a" textLength="15.12" lengthAdjust="spacingAndGlyphs">30.27</text>
<text x="394.54" y="448.50" font-size="6.59" fill="#fff" textLength="13.25" lengthAdjust="spacingAndGlyphs">4200</text>
<text x="394.54" y="459.95" font-size="6.23" fill="#2a2a2a" textLength="13.34" lengthAdjust="spacingAndGlyphs">4689</text>
<text x="393.60" y="468.30" font-size="6.23" fill="#2a2a2a" textLength="15.12" lengthAdjust="spacingAndGlyphs">30.83</text>
<text x="412.33" y="448.50" font-size="6.59" fill="#fff" textLength="13.25" lengthAdjust="spacingAndGlyphs">4300</text>
<text x="412.33" y="459.95" font-size="6.23" fill="#2a2a2a" textLength="13.34" lengthAdjust="spacingAndGlyphs">4789</text>
<text x="411.40" y="468.30" font-size="6.23" fill="#2a2a2a" textLength="15.12" lengthAdjust="spacingAndGlyphs">31.39</text>
<text x="430.13" y="448.50" font-size="6.59" fill="#fff" textLength="13.25" lengthAdjust="spacingAndGlyphs">4400</text>
<text x="430.13" y="459.95" font-size="6.23" fill="#2a2a2a" textLength="13.34" lengthAdjust="spacingAndGlyphs">4889</text>
<text x="429.19" y="468.30" font-size="6.23" fill="#2a2a2a" textLength="15.12" lengthAdjust="spacingAndGlyphs">31.95</text>
<text x="447.93" y="448.50" font-size="6.59" fill="#fff" textLength="13.25" lengthAdjust="spacingAndGlyphs">4500</text>
<text x="447.93" y="459.95" font-size="6.23" fill="#2a2a2a" textLength="13.34" lengthAdjust="spacingAndGlyphs">4989</text>
<text x="446.99" y="468.30" font-size="6.23" fill="#2a2a2a" textLength="15.12" lengthAdjust="spacingAndGlyphs">32.51</text>
<text x="465.72" y="448.50" font-size="6.59" fill="#fff" textLength="13.25" lengthAdjust="spacingAndGlyphs">4600</text>
<text x="465.63" y="459.95" font-size="6.23" fill="#2a2a2a" textLength="13.44" lengthAdjust="spacingAndGlyphs">5089</text>
<text x="464.79" y="468.30" font-size="6.23" fill="#2a2a2a" textLength="15.12" lengthAdjust="spacingAndGlyphs">33.07</text>
<text x="483.52" y="448.50" font-size="6.59" fill="#fff" textLength="13.25" lengthAdjust="spacingAndGlyphs">4700</text>
<text x="483.42" y="459.95" font-size="6.23" fill="#2a2a2a" textLength="13.44" lengthAdjust="spacingAndGlyphs">5189</text>
<text x="482.58" y="468.30" font-size="6.23" fill="#2a2a2a" textLength="15.12" lengthAdjust="spacingAndGlyphs">33.63</text>
<text x="501.31" y="448.50" font-size="6.59" fill="#fff" textLength="13.25" lengthAdjust="spacingAndGlyphs">4800</text>
<text x="501.22" y="459.95" font-size="6.23" fill="#2a2a2a" textLength="13.44" lengthAdjust="spacingAndGlyphs">5289</text>
<text x="500.38" y="468.30" font-size="6.23" fill="#2a2a2a" textLength="15.12" lengthAdjust="spacingAndGlyphs">34.19</text>
<text x="519.11" y="448.50" font-size="6.59" fill="#fff" textLength="13.25" lengthAdjust="spacingAndGlyphs">4900</text>
<text x="519.01" y="459.95" font-size="6.23" fill="#2a2a2a" textLength="13.44" lengthAdjust="spacingAndGlyphs">5389</text>
<text x="518.17" y="468.30" font-size="6.23" fill="#2a2a2a" textLength="15.12" lengthAdjust="spacingAndGlyphs">34.75</text>
<text x="536.81" y="448.50" font-size="6.59" fill="#fff" textLength="13.34" lengthAdjust="spacingAndGlyphs">5000</text>
<text x="536.81" y="459.95" font-size="6.23" fill="#2a2a2a" textLength="13.44" lengthAdjust="spacingAndGlyphs">5489</text>
<text x="535.97" y="468.30" font-size="6.23" fill="#2a2a2a" textLength="15.12" lengthAdjust="spacingAndGlyphs">35.31</text>
<rect class="th" x="69.80" y="762.40" width="482.60" height="14.90"/>
<rect class="cream" x="69.80" y="777.30" width="38.00" height="16.80"/>
<line class="tb" x1="69.80" y1="762.10" x2="552.40" y2="762.10"/>
<line class="tw" x1="69.80" y1="777.65" x2="552.40" y2="777.65"/>
<line class="tv" x1="107.80" y1="778.20" x2="552.40" y2="778.20"/>
<line class="tm" x1="69.80" y1="786.20" x2="552.40" y2="786.20"/>
<line class="tb2" x1="69.80" y1="794.10" x2="552.40" y2="794.10"/>
<line class="thv" x1="107.80" y1="762.40" x2="107.80" y2="777.30"/>
<line class="tv" x1="107.80" y1="778.20" x2="107.80" y2="793.70"/>
<line class="thv" x1="125.58" y1="762.40" x2="125.58" y2="777.30"/>
<line class="tv" x1="125.58" y1="778.20" x2="125.58" y2="793.70"/>
<line class="thv" x1="143.37" y1="762.40" x2="143.37" y2="777.30"/>
<line class="tv" x1="143.37" y1="778.20" x2="143.37" y2="793.70"/>
<line class="thv" x1="161.15" y1="762.40" x2="161.15" y2="777.30"/>
<line class="tv" x1="161.15" y1="778.20" x2="161.15" y2="793.70"/>
<line class="thv" x1="178.94" y1="762.40" x2="178.94" y2="777.30"/>
<line class="tv" x1="178.94" y1="778.20" x2="178.94" y2="793.70"/>
<line class="thv" x1="196.72" y1="762.40" x2="196.72" y2="777.30"/>
<line class="tv" x1="196.72" y1="778.20" x2="196.72" y2="793.70"/>
<line class="thv" x1="214.50" y1="762.40" x2="214.50" y2="777.30"/>
<line class="tv" x1="214.50" y1="778.20" x2="214.50" y2="793.70"/>
<line class="thv" x1="232.29" y1="762.40" x2="232.29" y2="777.30"/>
<line class="tv" x1="232.29" y1="778.20" x2="232.29" y2="793.70"/>
<line class="thv" x1="250.07" y1="762.40" x2="250.07" y2="777.30"/>
<line class="tv" x1="250.07" y1="778.20" x2="250.07" y2="793.70"/>
<line class="thv" x1="267.86" y1="762.40" x2="267.86" y2="777.30"/>
<line class="tv" x1="267.86" y1="778.20" x2="267.86" y2="793.70"/>
<line class="thv" x1="285.64" y1="762.40" x2="285.64" y2="777.30"/>
<line class="tv" x1="285.64" y1="778.20" x2="285.64" y2="793.70"/>
<line class="thv" x1="303.42" y1="762.40" x2="303.42" y2="777.30"/>
<line class="tv" x1="303.42" y1="778.20" x2="303.42" y2="793.70"/>
<line class="thv" x1="321.21" y1="762.40" x2="321.21" y2="777.30"/>
<line class="tv" x1="321.21" y1="778.20" x2="321.21" y2="793.70"/>
<line class="thv" x1="338.99" y1="762.40" x2="338.99" y2="777.30"/>
<line class="tv" x1="338.99" y1="778.20" x2="338.99" y2="793.70"/>
<line class="thv" x1="356.78" y1="762.40" x2="356.78" y2="777.30"/>
<line class="tv" x1="356.78" y1="778.20" x2="356.78" y2="793.70"/>
<line class="thv" x1="374.56" y1="762.40" x2="374.56" y2="777.30"/>
<line class="tv" x1="374.56" y1="778.20" x2="374.56" y2="793.70"/>
<line class="thv" x1="392.34" y1="762.40" x2="392.34" y2="777.30"/>
<line class="tv" x1="392.34" y1="778.20" x2="392.34" y2="793.70"/>
<line class="thv" x1="410.13" y1="762.40" x2="410.13" y2="777.30"/>
<line class="tv" x1="410.13" y1="778.20" x2="410.13" y2="793.70"/>
<line class="thv" x1="427.91" y1="762.40" x2="427.91" y2="777.30"/>
<line class="tv" x1="427.91" y1="778.20" x2="427.91" y2="793.70"/>
<line class="thv" x1="445.70" y1="762.40" x2="445.70" y2="777.30"/>
<line class="tv" x1="445.70" y1="778.20" x2="445.70" y2="793.70"/>
<line class="thv" x1="463.48" y1="762.40" x2="463.48" y2="777.30"/>
<line class="tv" x1="463.48" y1="778.20" x2="463.48" y2="793.70"/>
<line class="thv" x1="481.26" y1="762.40" x2="481.26" y2="777.30"/>
<line class="tv" x1="481.26" y1="778.20" x2="481.26" y2="793.70"/>
<line class="thv" x1="499.05" y1="762.40" x2="499.05" y2="777.30"/>
<line class="tv" x1="499.05" y1="778.20" x2="499.05" y2="793.70"/>
<line class="thv" x1="516.83" y1="762.40" x2="516.83" y2="777.30"/>
<line class="tv" x1="516.83" y1="778.20" x2="516.83" y2="793.70"/>
<line class="thv" x1="534.62" y1="762.40" x2="534.62" y2="777.30"/>
<line class="tv" x1="534.62" y1="778.20" x2="534.62" y2="793.70"/>
<text x="74.48" y="769.55" font-size="6.93" fill="#fff" textLength="28.65" lengthAdjust="spacingAndGlyphs">有效行程</text>
<text x="80.21" y="775.50" font-size="6.67" fill="#fff" textLength="17.43" lengthAdjust="spacingAndGlyphs">Stroke</text>
<text x="86.78" y="783.90" font-size="6.38" fill="#2a2a2a" textLength="3.68" lengthAdjust="spacingAndGlyphs">L</text>
<text x="84.75" y="792.50" font-size="6.38" fill="#2a2a2a" textLength="8.39" lengthAdjust="spacingAndGlyphs">KG</text>
<text x="111.49" y="772.40" font-size="6.59" fill="#fff" textLength="10.17" lengthAdjust="spacingAndGlyphs">100</text>
<text x="111.68" y="783.85" font-size="6.23" fill="#2a2a2a" textLength="10.07" lengthAdjust="spacingAndGlyphs">589</text>
<text x="110.74" y="792.20" font-size="6.23" fill="#2a2a2a" textLength="11.86" lengthAdjust="spacingAndGlyphs">7.87</text>
<text x="129.37" y="772.40" font-size="6.59" fill="#fff" textLength="10.07" lengthAdjust="spacingAndGlyphs">200</text>
<text x="129.37" y="783.85" font-size="6.23" fill="#2a2a2a" textLength="10.17" lengthAdjust="spacingAndGlyphs">689</text>
<text x="128.63" y="792.20" font-size="6.23" fill="#2a2a2a" textLength="11.76" lengthAdjust="spacingAndGlyphs">8.43</text>
<text x="147.25" y="772.40" font-size="6.59" fill="#fff" textLength="9.98" lengthAdjust="spacingAndGlyphs">300</text>
<text x="147.15" y="783.85" font-size="6.23" fill="#2a2a2a" textLength="10.17" lengthAdjust="spacingAndGlyphs">789</text>
<text x="146.41" y="792.20" font-size="6.23" fill="#2a2a2a" textLength="11.76" lengthAdjust="spacingAndGlyphs">8.99</text>
<text x="165.13" y="772.40" font-size="6.59" fill="#fff" textLength="9.88" lengthAdjust="spacingAndGlyphs">400</text>
<text x="165.03" y="783.85" font-size="6.23" fill="#2a2a2a" textLength="10.07" lengthAdjust="spacingAndGlyphs">889</text>
<text x="164.10" y="792.20" font-size="6.23" fill="#2a2a2a" textLength="11.86" lengthAdjust="spacingAndGlyphs">9.55</text>
<text x="182.82" y="772.40" font-size="6.59" fill="#fff" textLength="9.98" lengthAdjust="spacingAndGlyphs">500</text>
<text x="182.72" y="783.85" font-size="6.23" fill="#2a2a2a" textLength="10.17" lengthAdjust="spacingAndGlyphs">989</text>
<text x="180.09" y="792.20" font-size="6.23" fill="#2a2a2a" textLength="15.34" lengthAdjust="spacingAndGlyphs">10.11</text>
<text x="200.51" y="772.40" font-size="6.59" fill="#fff" textLength="10.07" lengthAdjust="spacingAndGlyphs">600</text>
<text x="198.73" y="783.85" font-size="6.23" fill="#2a2a2a" textLength="13.64" lengthAdjust="spacingAndGlyphs">1089</text>
<text x="197.89" y="792.20" font-size="6.23" fill="#2a2a2a" textLength="15.32" lengthAdjust="spacingAndGlyphs">10.67</text>
<text x="218.29" y="772.40" font-size="6.59" fill="#fff" textLength="10.07" lengthAdjust="spacingAndGlyphs">700</text>
<text x="216.50" y="783.85" font-size="6.23" fill="#2a2a2a" textLength="13.66" lengthAdjust="spacingAndGlyphs">1189</text>
<text x="215.66" y="792.20" font-size="6.23" fill="#2a2a2a" textLength="15.34" lengthAdjust="spacingAndGlyphs">11.23</text>
<text x="236.17" y="772.40" font-size="6.59" fill="#fff" textLength="9.98" lengthAdjust="spacingAndGlyphs">800</text>
<text x="234.29" y="783.85" font-size="6.23" fill="#2a2a2a" textLength="13.64" lengthAdjust="spacingAndGlyphs">1289</text>
<text x="233.44" y="792.20" font-size="6.23" fill="#2a2a2a" textLength="15.34" lengthAdjust="spacingAndGlyphs">11.79</text>
<text x="253.86" y="772.40" font-size="6.59" fill="#fff" textLength="10.07" lengthAdjust="spacingAndGlyphs">900</text>
<text x="252.08" y="783.85" font-size="6.23" fill="#2a2a2a" textLength="13.64" lengthAdjust="spacingAndGlyphs">1389</text>
<text x="251.24" y="792.20" font-size="6.23" fill="#2a2a2a" textLength="15.32" lengthAdjust="spacingAndGlyphs">12.35</text>
<text x="269.87" y="772.40" font-size="6.59" fill="#fff" textLength="13.54" lengthAdjust="spacingAndGlyphs">1000</text>
<text x="269.86" y="783.85" font-size="6.23" fill="#2a2a2a" textLength="13.64" lengthAdjust="spacingAndGlyphs">1489</text>
<text x="269.02" y="792.20" font-size="6.23" fill="#2a2a2a" textLength="15.32" lengthAdjust="spacingAndGlyphs">12.91</text>
<text x="287.64" y="772.40" font-size="6.59" fill="#fff" textLength="13.56" lengthAdjust="spacingAndGlyphs">1100</text>
<text x="287.65" y="783.85" font-size="6.23" fill="#2a2a2a" textLength="13.64" lengthAdjust="spacingAndGlyphs">1589</text>
<text x="286.81" y="792.20" font-size="6.23" fill="#2a2a2a" textLength="15.32" lengthAdjust="spacingAndGlyphs">13.47</text>
<text x="305.43" y="772.40" font-size="6.59" fill="#fff" textLength="13.54" lengthAdjust="spacingAndGlyphs">1200</text>
<text x="305.43" y="783.85" font-size="6.23" fill="#2a2a2a" textLength="13.64" lengthAdjust="spacingAndGlyphs">1689</text>
<text x="304.59" y="792.20" font-size="6.23" fill="#2a2a2a" textLength="15.32" lengthAdjust="spacingAndGlyphs">14.03</text>
<text x="323.22" y="772.40" font-size="6.59" fill="#fff" textLength="13.54" lengthAdjust="spacingAndGlyphs">1300</text>
<text x="323.21" y="783.85" font-size="6.23" fill="#2a2a2a" textLength="13.64" lengthAdjust="spacingAndGlyphs">1789</text>
<text x="322.37" y="792.20" font-size="6.23" fill="#2a2a2a" textLength="15.32" lengthAdjust="spacingAndGlyphs">14.59</text>
<text x="341.00" y="772.40" font-size="6.59" fill="#fff" textLength="13.54" lengthAdjust="spacingAndGlyphs">1400</text>
<text x="341.00" y="783.85" font-size="6.23" fill="#2a2a2a" textLength="13.64" lengthAdjust="spacingAndGlyphs">1889</text>
<text x="340.16" y="792.20" font-size="6.23" fill="#2a2a2a" textLength="15.32" lengthAdjust="spacingAndGlyphs">15.15</text>
<text x="358.79" y="772.40" font-size="6.59" fill="#fff" textLength="13.54" lengthAdjust="spacingAndGlyphs">1500</text>
<text x="358.78" y="783.85" font-size="6.23" fill="#2a2a2a" textLength="13.64" lengthAdjust="spacingAndGlyphs">1989</text>
<text x="357.94" y="792.20" font-size="6.23" fill="#2a2a2a" textLength="15.32" lengthAdjust="spacingAndGlyphs">15.71</text>
<text x="376.57" y="772.40" font-size="6.59" fill="#fff" textLength="13.54" lengthAdjust="spacingAndGlyphs">1600</text>
<text x="376.66" y="783.85" font-size="6.23" fill="#2a2a2a" textLength="13.54" lengthAdjust="spacingAndGlyphs">2089</text>
<text x="375.73" y="792.20" font-size="6.23" fill="#2a2a2a" textLength="15.32" lengthAdjust="spacingAndGlyphs">16.27</text>
<text x="394.35" y="772.40" font-size="6.59" fill="#fff" textLength="13.54" lengthAdjust="spacingAndGlyphs">1700</text>
<text x="394.45" y="783.85" font-size="6.23" fill="#2a2a2a" textLength="13.54" lengthAdjust="spacingAndGlyphs">2189</text>
<text x="393.51" y="792.20" font-size="6.23" fill="#2a2a2a" textLength="15.32" lengthAdjust="spacingAndGlyphs">16.83</text>
<text x="412.14" y="772.40" font-size="6.59" fill="#fff" textLength="13.54" lengthAdjust="spacingAndGlyphs">1800</text>
<text x="412.23" y="783.85" font-size="6.23" fill="#2a2a2a" textLength="13.54" lengthAdjust="spacingAndGlyphs">2289</text>
<text x="411.29" y="792.20" font-size="6.23" fill="#2a2a2a" textLength="15.32" lengthAdjust="spacingAndGlyphs">17.39</text>
<text x="429.92" y="772.40" font-size="6.59" fill="#fff" textLength="13.54" lengthAdjust="spacingAndGlyphs">1900</text>
<text x="430.02" y="783.85" font-size="6.23" fill="#2a2a2a" textLength="13.54" lengthAdjust="spacingAndGlyphs">2389</text>
<text x="429.08" y="792.20" font-size="6.23" fill="#2a2a2a" textLength="15.32" lengthAdjust="spacingAndGlyphs">17.95</text>
<text x="447.80" y="772.40" font-size="6.59" fill="#fff" textLength="13.44" lengthAdjust="spacingAndGlyphs">2000</text>
<text x="447.80" y="783.85" font-size="6.23" fill="#2a2a2a" textLength="13.54" lengthAdjust="spacingAndGlyphs">2489</text>
<text x="446.86" y="792.20" font-size="6.23" fill="#2a2a2a" textLength="15.32" lengthAdjust="spacingAndGlyphs">18.51</text>
<text x="465.59" y="772.40" font-size="6.59" fill="#fff" textLength="13.44" lengthAdjust="spacingAndGlyphs">2100</text>
<text x="465.58" y="783.85" font-size="6.23" fill="#2a2a2a" textLength="13.54" lengthAdjust="spacingAndGlyphs">2589</text>
<text x="464.65" y="792.20" font-size="6.23" fill="#2a2a2a" textLength="15.32" lengthAdjust="spacingAndGlyphs">19.07</text>
<text x="483.37" y="772.40" font-size="6.59" fill="#fff" textLength="13.44" lengthAdjust="spacingAndGlyphs">2200</text>
<text x="483.37" y="783.85" font-size="6.23" fill="#2a2a2a" textLength="13.54" lengthAdjust="spacingAndGlyphs">2689</text>
<text x="482.43" y="792.20" font-size="6.23" fill="#2a2a2a" textLength="15.32" lengthAdjust="spacingAndGlyphs">19.63</text>
<text x="501.15" y="772.40" font-size="6.59" fill="#fff" textLength="13.44" lengthAdjust="spacingAndGlyphs">2300</text>
<text x="501.15" y="783.85" font-size="6.23" fill="#2a2a2a" textLength="13.54" lengthAdjust="spacingAndGlyphs">2789</text>
<text x="500.31" y="792.20" font-size="6.23" fill="#2a2a2a" textLength="15.22" lengthAdjust="spacingAndGlyphs">20.19</text>
<text x="518.94" y="772.40" font-size="6.59" fill="#fff" textLength="13.44" lengthAdjust="spacingAndGlyphs">2400</text>
<text x="518.94" y="783.85" font-size="6.23" fill="#2a2a2a" textLength="13.54" lengthAdjust="spacingAndGlyphs">2889</text>
<text x="518.10" y="792.20" font-size="6.23" fill="#2a2a2a" textLength="15.22" lengthAdjust="spacingAndGlyphs">20.75</text>
<text x="536.72" y="772.40" font-size="6.59" fill="#fff" textLength="13.44" lengthAdjust="spacingAndGlyphs">2500</text>
<text x="536.72" y="783.85" font-size="6.23" fill="#2a2a2a" textLength="13.54" lengthAdjust="spacingAndGlyphs">2989</text>
<text x="535.88" y="792.20" font-size="6.23" fill="#2a2a2a" textLength="15.22" lengthAdjust="spacingAndGlyphs">21.31</text>
<rect class="th" x="69.50" y="798.10" width="482.90" height="14.90"/>
<rect class="cream" x="69.50" y="813.00" width="38.00" height="16.80"/>
<line class="tb" x1="69.50" y1="797.80" x2="552.40" y2="797.80"/>
<line class="tw" x1="69.50" y1="813.35" x2="552.40" y2="813.35"/>
<line class="tv" x1="107.50" y1="813.90" x2="552.40" y2="813.90"/>
<line class="tm" x1="69.50" y1="821.90" x2="552.40" y2="821.90"/>
<line class="tb2" x1="69.50" y1="829.80" x2="552.40" y2="829.80"/>
<line class="thv" x1="107.50" y1="798.10" x2="107.50" y2="813.00"/>
<line class="tv" x1="107.50" y1="813.90" x2="107.50" y2="829.40"/>
<line class="thv" x1="125.30" y1="798.10" x2="125.30" y2="813.00"/>
<line class="tv" x1="125.30" y1="813.90" x2="125.30" y2="829.40"/>
<line class="thv" x1="143.09" y1="798.10" x2="143.09" y2="813.00"/>
<line class="tv" x1="143.09" y1="813.90" x2="143.09" y2="829.40"/>
<line class="thv" x1="160.89" y1="798.10" x2="160.89" y2="813.00"/>
<line class="tv" x1="160.89" y1="813.90" x2="160.89" y2="829.40"/>
<line class="thv" x1="178.68" y1="798.10" x2="178.68" y2="813.00"/>
<line class="tv" x1="178.68" y1="813.90" x2="178.68" y2="829.40"/>
<line class="thv" x1="196.48" y1="798.10" x2="196.48" y2="813.00"/>
<line class="tv" x1="196.48" y1="813.90" x2="196.48" y2="829.40"/>
<line class="thv" x1="214.28" y1="798.10" x2="214.28" y2="813.00"/>
<line class="tv" x1="214.28" y1="813.90" x2="214.28" y2="829.40"/>
<line class="thv" x1="232.07" y1="798.10" x2="232.07" y2="813.00"/>
<line class="tv" x1="232.07" y1="813.90" x2="232.07" y2="829.40"/>
<line class="thv" x1="249.87" y1="798.10" x2="249.87" y2="813.00"/>
<line class="tv" x1="249.87" y1="813.90" x2="249.87" y2="829.40"/>
<line class="thv" x1="267.66" y1="798.10" x2="267.66" y2="813.00"/>
<line class="tv" x1="267.66" y1="813.90" x2="267.66" y2="829.40"/>
<line class="thv" x1="285.46" y1="798.10" x2="285.46" y2="813.00"/>
<line class="tv" x1="285.46" y1="813.90" x2="285.46" y2="829.40"/>
<line class="thv" x1="303.26" y1="798.10" x2="303.26" y2="813.00"/>
<line class="tv" x1="303.26" y1="813.90" x2="303.26" y2="829.40"/>
<line class="thv" x1="321.05" y1="798.10" x2="321.05" y2="813.00"/>
<line class="tv" x1="321.05" y1="813.90" x2="321.05" y2="829.40"/>
<line class="thv" x1="338.85" y1="798.10" x2="338.85" y2="813.00"/>
<line class="tv" x1="338.85" y1="813.90" x2="338.85" y2="829.40"/>
<line class="thv" x1="356.64" y1="798.10" x2="356.64" y2="813.00"/>
<line class="tv" x1="356.64" y1="813.90" x2="356.64" y2="829.40"/>
<line class="thv" x1="374.44" y1="798.10" x2="374.44" y2="813.00"/>
<line class="tv" x1="374.44" y1="813.90" x2="374.44" y2="829.40"/>
<line class="thv" x1="392.24" y1="798.10" x2="392.24" y2="813.00"/>
<line class="tv" x1="392.24" y1="813.90" x2="392.24" y2="829.40"/>
<line class="thv" x1="410.03" y1="798.10" x2="410.03" y2="813.00"/>
<line class="tv" x1="410.03" y1="813.90" x2="410.03" y2="829.40"/>
<line class="thv" x1="427.83" y1="798.10" x2="427.83" y2="813.00"/>
<line class="tv" x1="427.83" y1="813.90" x2="427.83" y2="829.40"/>
<line class="thv" x1="445.62" y1="798.10" x2="445.62" y2="813.00"/>
<line class="tv" x1="445.62" y1="813.90" x2="445.62" y2="829.40"/>
<line class="thv" x1="463.42" y1="798.10" x2="463.42" y2="813.00"/>
<line class="tv" x1="463.42" y1="813.90" x2="463.42" y2="829.40"/>
<line class="thv" x1="481.22" y1="798.10" x2="481.22" y2="813.00"/>
<line class="tv" x1="481.22" y1="813.90" x2="481.22" y2="829.40"/>
<line class="thv" x1="499.01" y1="798.10" x2="499.01" y2="813.00"/>
<line class="tv" x1="499.01" y1="813.90" x2="499.01" y2="829.40"/>
<line class="thv" x1="516.81" y1="798.10" x2="516.81" y2="813.00"/>
<line class="tv" x1="516.81" y1="813.90" x2="516.81" y2="829.40"/>
<line class="thv" x1="534.60" y1="798.10" x2="534.60" y2="813.00"/>
<line class="tv" x1="534.60" y1="813.90" x2="534.60" y2="829.40"/>
<text x="74.18" y="805.25" font-size="6.93" fill="#fff" textLength="28.65" lengthAdjust="spacingAndGlyphs">有效行程</text>
<text x="79.91" y="811.20" font-size="6.67" fill="#fff" textLength="17.43" lengthAdjust="spacingAndGlyphs">Stroke</text>
<text x="86.48" y="819.60" font-size="6.38" fill="#2a2a2a" textLength="3.68" lengthAdjust="spacingAndGlyphs">L</text>
<text x="84.45" y="828.20" font-size="6.38" fill="#2a2a2a" textLength="8.39" lengthAdjust="spacingAndGlyphs">KG</text>
<text x="109.61" y="808.10" font-size="6.59" fill="#fff" textLength="13.44" lengthAdjust="spacingAndGlyphs">2600</text>
<text x="109.71" y="819.55" font-size="6.23" fill="#2a2a2a" textLength="13.44" lengthAdjust="spacingAndGlyphs">3089</text>
<text x="108.77" y="827.90" font-size="6.23" fill="#2a2a2a" textLength="15.22" lengthAdjust="spacingAndGlyphs">21.87</text>
<text x="127.41" y="808.10" font-size="6.59" fill="#fff" textLength="13.44" lengthAdjust="spacingAndGlyphs">2700</text>
<text x="127.50" y="819.55" font-size="6.23" fill="#2a2a2a" textLength="13.44" lengthAdjust="spacingAndGlyphs">3189</text>
<text x="126.57" y="827.90" font-size="6.23" fill="#2a2a2a" textLength="15.22" lengthAdjust="spacingAndGlyphs">22.43</text>
<text x="145.20" y="808.10" font-size="6.59" fill="#fff" textLength="13.44" lengthAdjust="spacingAndGlyphs">2800</text>
<text x="145.30" y="819.55" font-size="6.23" fill="#2a2a2a" textLength="13.44" lengthAdjust="spacingAndGlyphs">3289</text>
<text x="144.36" y="827.90" font-size="6.23" fill="#2a2a2a" textLength="15.22" lengthAdjust="spacingAndGlyphs">22.99</text>
<text x="163.00" y="808.10" font-size="6.59" fill="#fff" textLength="13.44" lengthAdjust="spacingAndGlyphs">2900</text>
<text x="163.09" y="819.55" font-size="6.23" fill="#2a2a2a" textLength="13.44" lengthAdjust="spacingAndGlyphs">3389</text>
<text x="162.16" y="827.90" font-size="6.23" fill="#2a2a2a" textLength="15.22" lengthAdjust="spacingAndGlyphs">23.55</text>
<text x="180.89" y="808.10" font-size="6.59" fill="#fff" textLength="13.34" lengthAdjust="spacingAndGlyphs">3000</text>
<text x="180.89" y="819.55" font-size="6.23" fill="#2a2a2a" textLength="13.44" lengthAdjust="spacingAndGlyphs">3489</text>
<text x="179.94" y="827.90" font-size="6.23" fill="#2a2a2a" textLength="15.24" lengthAdjust="spacingAndGlyphs">24.11</text>
<text x="198.69" y="808.10" font-size="6.59" fill="#fff" textLength="13.34" lengthAdjust="spacingAndGlyphs">3100</text>
<text x="198.69" y="819.55" font-size="6.23" fill="#2a2a2a" textLength="13.44" lengthAdjust="spacingAndGlyphs">3589</text>
<text x="197.75" y="827.90" font-size="6.23" fill="#2a2a2a" textLength="15.22" lengthAdjust="spacingAndGlyphs">24.67</text>
<text x="216.48" y="808.10" font-size="6.59" fill="#fff" textLength="13.34" lengthAdjust="spacingAndGlyphs">3200</text>
<text x="216.48" y="819.55" font-size="6.23" fill="#2a2a2a" textLength="13.44" lengthAdjust="spacingAndGlyphs">3689</text>
<text x="215.55" y="827.90" font-size="6.23" fill="#2a2a2a" textLength="15.22" lengthAdjust="spacingAndGlyphs">25.23</text>
<text x="234.28" y="808.10" font-size="6.59" fill="#fff" textLength="13.34" lengthAdjust="spacingAndGlyphs">3300</text>
<text x="234.28" y="819.55" font-size="6.23" fill="#2a2a2a" textLength="13.44" lengthAdjust="spacingAndGlyphs">3789</text>
<text x="233.34" y="827.90" font-size="6.23" fill="#2a2a2a" textLength="15.22" lengthAdjust="spacingAndGlyphs">25.79</text>
<text x="252.08" y="808.10" font-size="6.59" fill="#fff" textLength="13.34" lengthAdjust="spacingAndGlyphs">3400</text>
<text x="252.07" y="819.55" font-size="6.23" fill="#2a2a2a" textLength="13.44" lengthAdjust="spacingAndGlyphs">3889</text>
<text x="251.14" y="827.90" font-size="6.23" fill="#2a2a2a" textLength="15.22" lengthAdjust="spacingAndGlyphs">26.35</text>
<text x="269.87" y="808.10" font-size="6.59" fill="#fff" textLength="13.34" lengthAdjust="spacingAndGlyphs">3500</text>
<text x="269.87" y="819.55" font-size="6.23" fill="#2a2a2a" textLength="13.44" lengthAdjust="spacingAndGlyphs">3989</text>
<text x="268.93" y="827.90" font-size="6.23" fill="#2a2a2a" textLength="15.22" lengthAdjust="spacingAndGlyphs">26.91</text>
<text x="287.67" y="808.10" font-size="6.59" fill="#fff" textLength="13.34" lengthAdjust="spacingAndGlyphs">3600</text>
<text x="287.76" y="819.55" font-size="6.23" fill="#2a2a2a" textLength="13.34" lengthAdjust="spacingAndGlyphs">4089</text>
<text x="286.73" y="827.90" font-size="6.23" fill="#2a2a2a" textLength="15.22" lengthAdjust="spacingAndGlyphs">27.47</text>
<text x="305.46" y="808.10" font-size="6.59" fill="#fff" textLength="13.34" lengthAdjust="spacingAndGlyphs">3700</text>
<text x="305.56" y="819.55" font-size="6.23" fill="#2a2a2a" textLength="13.34" lengthAdjust="spacingAndGlyphs">4189</text>
<text x="304.53" y="827.90" font-size="6.23" fill="#2a2a2a" textLength="15.22" lengthAdjust="spacingAndGlyphs">28.03</text>
<text x="323.26" y="808.10" font-size="6.59" fill="#fff" textLength="13.34" lengthAdjust="spacingAndGlyphs">3800</text>
<text x="323.35" y="819.55" font-size="6.23" fill="#2a2a2a" textLength="13.34" lengthAdjust="spacingAndGlyphs">4289</text>
<text x="322.32" y="827.90" font-size="6.23" fill="#2a2a2a" textLength="15.22" lengthAdjust="spacingAndGlyphs">28.59</text>
<text x="341.06" y="808.10" font-size="6.59" fill="#fff" textLength="13.34" lengthAdjust="spacingAndGlyphs">3900</text>
<text x="341.15" y="819.55" font-size="6.23" fill="#2a2a2a" textLength="13.34" lengthAdjust="spacingAndGlyphs">4389</text>
<text x="340.12" y="827.90" font-size="6.23" fill="#2a2a2a" textLength="15.22" lengthAdjust="spacingAndGlyphs">29.15</text>
<text x="358.95" y="808.10" font-size="6.59" fill="#fff" textLength="13.25" lengthAdjust="spacingAndGlyphs">4000</text>
<text x="358.95" y="819.55" font-size="6.23" fill="#2a2a2a" textLength="13.34" lengthAdjust="spacingAndGlyphs">4489</text>
<text x="357.91" y="827.90" font-size="6.23" fill="#2a2a2a" textLength="15.22" lengthAdjust="spacingAndGlyphs">29.71</text>
<text x="376.74" y="808.10" font-size="6.59" fill="#fff" textLength="13.25" lengthAdjust="spacingAndGlyphs">4100</text>
<text x="376.74" y="819.55" font-size="6.23" fill="#2a2a2a" textLength="13.34" lengthAdjust="spacingAndGlyphs">4589</text>
<text x="375.81" y="827.90" font-size="6.23" fill="#2a2a2a" textLength="15.12" lengthAdjust="spacingAndGlyphs">30.27</text>
<text x="394.54" y="808.10" font-size="6.59" fill="#fff" textLength="13.25" lengthAdjust="spacingAndGlyphs">4200</text>
<text x="394.54" y="819.55" font-size="6.23" fill="#2a2a2a" textLength="13.34" lengthAdjust="spacingAndGlyphs">4689</text>
<text x="393.60" y="827.90" font-size="6.23" fill="#2a2a2a" textLength="15.12" lengthAdjust="spacingAndGlyphs">30.83</text>
<text x="412.33" y="808.10" font-size="6.59" fill="#fff" textLength="13.25" lengthAdjust="spacingAndGlyphs">4300</text>
<text x="412.33" y="819.55" font-size="6.23" fill="#2a2a2a" textLength="13.34" lengthAdjust="spacingAndGlyphs">4789</text>
<text x="411.40" y="827.90" font-size="6.23" fill="#2a2a2a" textLength="15.12" lengthAdjust="spacingAndGlyphs">31.39</text>
<text x="430.13" y="808.10" font-size="6.59" fill="#fff" textLength="13.25" lengthAdjust="spacingAndGlyphs">4400</text>
<text x="430.13" y="819.55" font-size="6.23" fill="#2a2a2a" textLength="13.34" lengthAdjust="spacingAndGlyphs">4889</text>
<text x="429.19" y="827.90" font-size="6.23" fill="#2a2a2a" textLength="15.12" lengthAdjust="spacingAndGlyphs">31.95</text>
<text x="447.93" y="808.10" font-size="6.59" fill="#fff" textLength="13.25" lengthAdjust="spacingAndGlyphs">4500</text>
<text x="447.93" y="819.55" font-size="6.23" fill="#2a2a2a" textLength="13.34" lengthAdjust="spacingAndGlyphs">4989</text>
<text x="446.99" y="827.90" font-size="6.23" fill="#2a2a2a" textLength="15.12" lengthAdjust="spacingAndGlyphs">32.51</text>
<text x="465.72" y="808.10" font-size="6.59" fill="#fff" textLength="13.25" lengthAdjust="spacingAndGlyphs">4600</text>
<text x="465.63" y="819.55" font-size="6.23" fill="#2a2a2a" textLength="13.44" lengthAdjust="spacingAndGlyphs">5089</text>
<text x="464.79" y="827.90" font-size="6.23" fill="#2a2a2a" textLength="15.12" lengthAdjust="spacingAndGlyphs">33.07</text>
<text x="483.52" y="808.10" font-size="6.59" fill="#fff" textLength="13.25" lengthAdjust="spacingAndGlyphs">4700</text>
<text x="483.42" y="819.55" font-size="6.23" fill="#2a2a2a" textLength="13.44" lengthAdjust="spacingAndGlyphs">5189</text>
<text x="482.58" y="827.90" font-size="6.23" fill="#2a2a2a" textLength="15.12" lengthAdjust="spacingAndGlyphs">33.63</text>
<text x="501.31" y="808.10" font-size="6.59" fill="#fff" textLength="13.25" lengthAdjust="spacingAndGlyphs">4800</text>
<text x="501.22" y="819.55" font-size="6.23" fill="#2a2a2a" textLength="13.44" lengthAdjust="spacingAndGlyphs">5289</text>
<text x="500.38" y="827.90" font-size="6.23" fill="#2a2a2a" textLength="15.12" lengthAdjust="spacingAndGlyphs">34.19</text>
<text x="519.11" y="808.10" font-size="6.59" fill="#fff" textLength="13.25" lengthAdjust="spacingAndGlyphs">4900</text>
<text x="519.01" y="819.55" font-size="6.23" fill="#2a2a2a" textLength="13.44" lengthAdjust="spacingAndGlyphs">5389</text>
<text x="518.17" y="827.90" font-size="6.23" fill="#2a2a2a" textLength="15.12" lengthAdjust="spacingAndGlyphs">34.75</text>
<text x="536.81" y="808.10" font-size="6.59" fill="#fff" textLength="13.34" lengthAdjust="spacingAndGlyphs">5000</text>
<text x="536.81" y="819.55" font-size="6.23" fill="#2a2a2a" textLength="13.44" lengthAdjust="spacingAndGlyphs">5489</text>
<text x="535.97" y="827.90" font-size="6.23" fill="#2a2a2a" textLength="15.12" lengthAdjust="spacingAndGlyphs">35.31</text>
<path class="hdr" d="M0,852.2 H66.2 A16,16 0 0 1 82.2,868.2 V901 H0 Z"/>
<text x="89.73" y="871.00" font-size="9.28" fill="#6a6a6a" font-weight="700" textLength="78.78" lengthAdjust="spacingAndGlyphs">www.viso-auto.com</text>
</svg>
</body>
</html>
